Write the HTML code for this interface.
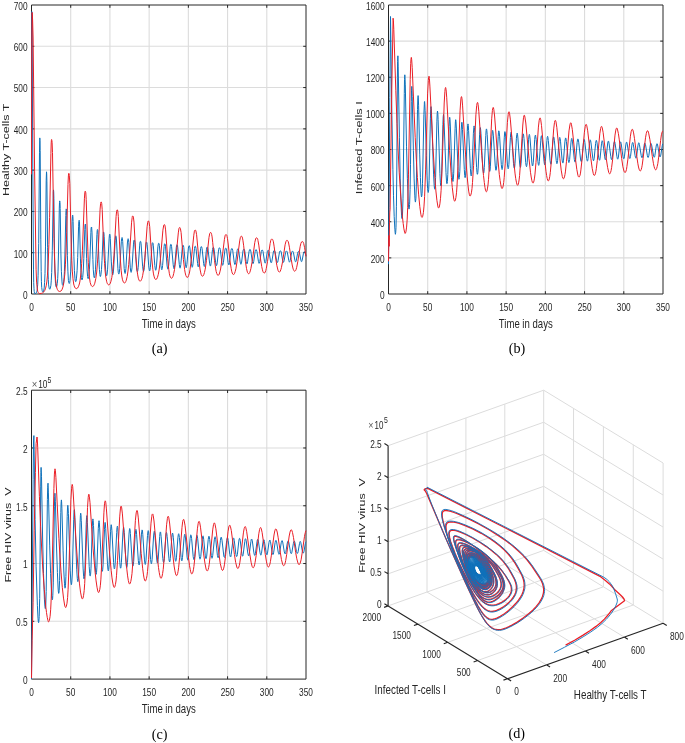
<!DOCTYPE html>
<html><head><meta charset="utf-8"><title>HIV model simulation figure</title>
<style>html,body{margin:0;padding:0;background:#fff;}body{width:685px;height:743px;overflow:hidden;}svg{display:block;will-change:transform;}</style>
</head><body><svg width="685" height="743" viewBox="0 0 685 743"><defs><clipPath id="ca"><rect x="30.50" y="4.00" width="276.50" height="291.00"/></clipPath><clipPath id="cb"><rect x="387.50" y="4.00" width="276.50" height="291.00"/></clipPath><clipPath id="cc"><rect x="30.50" y="389.20" width="276.50" height="290.90"/></clipPath></defs><g stroke="#dcdcdc" stroke-width="1.1"><line x1="70.71" y1="294.00" x2="70.71" y2="5.00"/><line x1="109.93" y1="294.00" x2="109.93" y2="5.00"/><line x1="149.14" y1="294.00" x2="149.14" y2="5.00"/><line x1="188.36" y1="294.00" x2="188.36" y2="5.00"/><line x1="227.57" y1="294.00" x2="227.57" y2="5.00"/><line x1="266.79" y1="294.00" x2="266.79" y2="5.00"/><line x1="31.50" y1="252.71" x2="306.00" y2="252.71"/><line x1="31.50" y1="211.43" x2="306.00" y2="211.43"/><line x1="31.50" y1="170.14" x2="306.00" y2="170.14"/><line x1="31.50" y1="128.86" x2="306.00" y2="128.86"/><line x1="31.50" y1="87.57" x2="306.00" y2="87.57"/><line x1="31.50" y1="46.29" x2="306.00" y2="46.29"/></g><g stroke="#262626" stroke-width="1.0"><path d="M31.50 294.00 H306.00 V5.00 H31.50 Z" fill="none"/><path d="M70.71 294.00v-2.80M70.71 5.00v2.80M109.93 294.00v-2.80M109.93 5.00v2.80M149.14 294.00v-2.80M149.14 5.00v2.80M188.36 294.00v-2.80M188.36 5.00v2.80M227.57 294.00v-2.80M227.57 5.00v2.80M266.79 294.00v-2.80M266.79 5.00v2.80M31.50 252.71h2.80M306.00 252.71h-2.80M31.50 211.43h2.80M306.00 211.43h-2.80M31.50 170.14h2.80M306.00 170.14h-2.80M31.50 128.86h2.80M306.00 128.86h-2.80M31.50 87.57h2.80M306.00 87.57h-2.80M31.50 46.29h2.80M306.00 46.29h-2.80" fill="none"/></g><text transform="translate(31.50 310.50) scale(0.800 1)" font-size="10.40" text-anchor="middle" font-family='"Liberation Sans", sans-serif' fill="#262626">0</text><text transform="translate(70.71 310.50) scale(0.800 1)" font-size="10.40" text-anchor="middle" font-family='"Liberation Sans", sans-serif' fill="#262626">50</text><text transform="translate(109.93 310.50) scale(0.800 1)" font-size="10.40" text-anchor="middle" font-family='"Liberation Sans", sans-serif' fill="#262626">100</text><text transform="translate(149.14 310.50) scale(0.800 1)" font-size="10.40" text-anchor="middle" font-family='"Liberation Sans", sans-serif' fill="#262626">150</text><text transform="translate(188.36 310.50) scale(0.800 1)" font-size="10.40" text-anchor="middle" font-family='"Liberation Sans", sans-serif' fill="#262626">200</text><text transform="translate(227.57 310.50) scale(0.800 1)" font-size="10.40" text-anchor="middle" font-family='"Liberation Sans", sans-serif' fill="#262626">250</text><text transform="translate(266.79 310.50) scale(0.800 1)" font-size="10.40" text-anchor="middle" font-family='"Liberation Sans", sans-serif' fill="#262626">300</text><text transform="translate(306.00 310.50) scale(0.800 1)" font-size="10.40" text-anchor="middle" font-family='"Liberation Sans", sans-serif' fill="#262626">350</text><text transform="translate(27.60 298.90) scale(0.800 1)" font-size="10.40" text-anchor="end" font-family='"Liberation Sans", sans-serif' fill="#262626">0</text><text transform="translate(27.60 257.61) scale(0.800 1)" font-size="10.40" text-anchor="end" font-family='"Liberation Sans", sans-serif' fill="#262626">100</text><text transform="translate(27.60 216.33) scale(0.800 1)" font-size="10.40" text-anchor="end" font-family='"Liberation Sans", sans-serif' fill="#262626">200</text><text transform="translate(27.60 175.04) scale(0.800 1)" font-size="10.40" text-anchor="end" font-family='"Liberation Sans", sans-serif' fill="#262626">300</text><text transform="translate(27.60 133.76) scale(0.800 1)" font-size="10.40" text-anchor="end" font-family='"Liberation Sans", sans-serif' fill="#262626">400</text><text transform="translate(27.60 92.47) scale(0.800 1)" font-size="10.40" text-anchor="end" font-family='"Liberation Sans", sans-serif' fill="#262626">500</text><text transform="translate(27.60 51.19) scale(0.800 1)" font-size="10.40" text-anchor="end" font-family='"Liberation Sans", sans-serif' fill="#262626">600</text><text transform="translate(27.60 9.90) scale(0.800 1)" font-size="10.40" text-anchor="end" font-family='"Liberation Sans", sans-serif' fill="#262626">700</text><text transform="translate(168.75 327.50) scale(0.760 1)" font-size="12.60" text-anchor="middle" font-family='"Liberation Sans", sans-serif' fill="#262626">Time in days</text><text transform="translate(9.00 149.80) scale(0.700 1) rotate(-90)" font-size="12.50" text-anchor="middle" font-family='"Liberation Sans", sans-serif' fill="#262626">Healthy T-cells T</text><g clip-path="url(#ca)"><path d="M31.5 174.3l.3 -162.7l.2 2.7l.1 10.4l.7 143.5l.7 101.7l.2 12.8l.3 6.1l.2 2.7l.3 1.4l.3 .7l.8 -.1l.6 -.6l.5 -1.1l.4 -1.5l.6 -5.5l.4 -9.5l.6 -31.9l.8 -91.1l.3 -14.4l.2 2.8l.2 10l.6 88.5l.4 32.4l.2 9.7l.3 6.1l.5 3.4l.3 .9l.4 .4l.3 -.1l.4 -.8l.6 -3.3l.4 -5.5l.4 -8.8l.5 -27.5l.7 -65.7l.3 -8.6l.2 2l.2 8l.7 65.4l.4 24.6l.3 7.8l.3 5.3l.5 3.1l.3 .9l.3 .3l.3 -.1l.3 -.8l.6 -3l.4 -5.1l.4 -7.7l.6 -22.2l.9 -52.5l.1 -6l.2 -1.9l.2 1.8l.2 6.7l.6 53.4l.4 20.2l.6 11.3l.4 2.8l.2 .7l.2 .3l.3 -.2l.2 -.7l.5 -2.8l.4 -4.7l.3 -6.8l.5 -19l.8 -44.8l.2 -5.6l.2 -1.6l.1 .3l.2 1.3l.2 6.1l.7 45.3l.5 17.8l.6 10.2l.3 2.6l.3 .7l.2 .2l.2 -.2l.3 -.6l.4 -2.7l.4 -4.2l.3 -6l.5 -16.7l.9 -39.5l.2 -5.1l.2 -1.5l.2 .3l.1 1.1l.2 5.5l.7 40l.5 15.4l.5 9.2l.4 2.3l.2 .6l.2 .2l.2 -.1l.2 -.6l.4 -2.4l.7 -9.3l.5 -14.7l.9 -34.9l.3 -4.8l.2 -1.5l.2 .3l.1 .9l.2 5l.8 35.4l.5 13.8l.6 8.2l.3 2.1l.4 .8l.2 -.2l.2 -.5l.3 -2.1l.7 -8.3l.6 -13.2l.9 -31.2l.2 -4.6l.3 -1.4l.2 .3l.1 .9l.2 4.6l.8 32.1l.5 12.1l.5 7.3l.3 1.8l.3 .7l.2 -.2l.1 -.4l.4 -1.9l.6 -7.4l.5 -11.8l1 -28.6l.2 -4.4l.3 -1.3l.2 .2l.1 .8l.2 4.4l.8 29.3l.5 11.3l.5 6.5l.2 1.6l.3 .6l.4 -.5l.3 -1.7l.6 -6.7l.5 -10.7l1 -26.8l.2 -4.1l.3 -1.2l.2 .2l.1 .8l.3 4.1l.9 27.5l.4 10.2l.5 6l.3 1.5l.3 .6l.2 -.5l.3 -1.5l.6 -6.1l.4 -9.9l1 -25.2l.3 -4.1l.2 -1.1l.2 .2l.2 .7l.2 3.9l.9 25.5l.5 9.5l.5 5.4l.2 1.4l.3 .5l.2 -.4l.3 -1.4l.6 -5.3l.5 -9.1l1 -23.4l.3 -3.9l.1 -.8l.2 -.3l.2 .2l.1 .7l.3 3.8l1 23.8l.4 8.6l.5 5l.2 1.2l.3 .5l.2 -.4l.3 -1.3l.5 -4.9l1.5 -30.3l.3 -3.7l.1 -.8l.2 -.3l.2 .2l.1 .6l.3 3.6l1 22.6l.5 7.9l.4 4.4l.3 1.1l.2 .4l.2 -.3l.3 -1.1l.4 -4.5l1.6 -28.6l.3 -3.6l.1 -.7l.2 -.3l.2 .2l.2 .6l.3 3.4l1.4 28.7l.4 4l.3 1l.2 .4l.2 -.3l.3 -1l.4 -4.1l1.6 -26.9l.4 -3.3l.1 -.8l.2 -.2l.2 .1l.2 .7l.3 3.2l1.5 27l.4 3.7l.3 .9l.2 .4l.2 -.3l.2 -.9l.4 -3.8l1.5 -25.5l.4 -3.3l.1 -.7l.2 -.3l.2 .2l.2 .6l.3 3.1l1.5 25.3l.4 3.4l.2 .8l.2 .3l.2 -.2l.2 -.9l.5 -3.4l1.5 -23.8l.3 -3.1l.2 -.8l.2 -.2l.2 .1l.2 .4l.3 2.2l1.5 23.3l.5 4.2l.2 1l.3 .4l.2 -.2l.2 -.8l.4 -3l1.5 -22.5l.3 -3l.2 -.6l.2 -.2l.2 .1l.2 .4l.3 2.1l1.5 22.3l.5 4l.2 .9l.2 .4l.2 -.2l.2 -.7l.4 -2.9l1.5 -21.8l.3 -2.9l.2 -.7l.2 -.2l.2 .1l.2 .4l.3 2.1l1.5 21.2l.5 3.7l.2 .9l.2 .4l.2 -.2l.2 -.7l.4 -2.7l1.5 -21l.3 -2.8l.2 -.6l.2 -.2l.2 .1l.2 .3l.3 2.1l1.5 20.4l.5 3.5l.2 .9l.2 .3l.2 -.2l.2 -.6l.3 -2.5l1.5 -20.2l.4 -2.7l.2 -.7l.2 -.2l.2 .1l.2 .4l.3 2l1.5 19.6l.5 3.3l.2 .9l.2 .3l.2 -.3l.2 -.8l.4 -3.2l1.5 -19.1l.3 -2l.2 -.5l.2 -.1l.2 .1l.2 .3l.3 2l1.5 18.8l.5 3.1l.2 .8l.2 .3l.2 -.2l.2 -.7l.4 -3.1l1.5 -18.4l.3 -1.9l.2 -.5l.1 -.1l.3 .1l.2 .4l.3 1.9l1.6 18l.4 3l.2 .8l.2 .2l.2 -.2l.2 -.7l.4 -3l1.5 -17.5l.3 -1.9l.1 -.5l.2 -.1l.3 .1l.2 .3l.3 1.9l1.6 17.3l.4 2.9l.2 .7l.2 .2l.2 -.2l.1 -.6l.4 -2.8l1.5 -16.9l.4 -1.8l.1 -.5l.2 -.1l.3 .1l.2 .3l.3 1.8l1.6 16.6l.4 2.7l.2 .7l.2 .3l.1 -.2l.2 -.7l.4 -2.6l1.5 -16.2l.3 -1.8l.2 -.4l.2 -.2l.3 .1l.1 .3l.4 1.8l1.6 15.9l.4 2.6l.1 .7l.2 .2l.2 -.2l.2 -.6l.4 -2.5l1.5 -15.5l.3 -1.8l.2 -.4l.2 -.1l.2 0l.2 .4l.4 1.7l1.6 15.3l.3 2.4l.2 .7l.2 .2l.2 -.2l.2 -.6l.4 -2.4l1.5 -14.9l.3 -1.7l.2 -.4l.2 -.1l.2 .1l.2 .3l.4 1.6l1.5 14.7l.4 2.4l.3 .8l.2 -.2l.2 -.5l.3 -2.3l1.5 -14.3l.3 -1.7l.4 -.5l.2 .1l.2 .3l.4 1.6l1.6 14.1l.4 2.2l.3 .8l.2 -.2l.2 -.5l.4 -2.2l1.4 -13.7l.4 -1.6l.2 -.4l.2 -.1l.2 .1l.2 .3l.4 1.5l1.6 13.5l.4 2.2l.3 .7l.2 -.2l.2 -.5l.4 -2.1l1.4 -13.1l.4 -1.6l.2 -.3l.2 -.1l.2 0l.3 .3l.4 1.5l1.6 13l.4 2l.3 .7l.2 -.1l.2 -.5l.4 -2l1.5 -12.6l.4 -1.5l.2 -.4l.2 -.1l.2 .1l.3 .3l.4 1.4l1.5 12.5l.4 1.9l.3 .7l.4 -.6l.3 -1.9l1.5 -12.1l.4 -1.5l.4 -.4l.2 0l.2 .3l.5 1.4l1.5 11.9l.4 1.9l.3 .6l.4 -.5l.3 -1.8l1.5 -11.6l.4 -1.4l.4 -.5l.2 0l.2 .3l.4 1.4l1.5 11.5l.4 1.7l.3 .6l.3 -.5l.4 -1.7l1.4 -11.2l.4 -1.3l.4 -.5l.2 .1l.3 .2l.4 1.3l1.5 11.1l.4 1.6l.3 .6l.4 -.5l.3 -1.6l1.5 -10.7l.4 -1.3l.3 -.5l.3 .1l.3 .2l.4 1.3l1.5 10.5l.4 1.7l.3 .5l.4 -.5l.3 -1.5l1.5 -10.3l.3 -1.3l.4 -.4l.3 0l.2 .3l.5 1.2l1.5 10.1l.4 1.6l.3 .5l.4 -.4l.3 -1.6l1.5 -9.8l.3 -1.2l.4 -.4l.3 0l.2 .2l.5 1.2l1.5 9.8l.3 1.5l.4 .5l.3 -.5l.4 -1.4l1.4 -9.5l.3 -1.1l.4 -.4l.3 0l.2 .2l.5 1.2l1.5 9.3l.4 1.4l.3 .5l.4 -.4l.3 -1.4l1.5 -9.1l.3 -1.1l.4 -.4l.3 0l.2 .2l.5 1.1l1.5 9l.4 1.4l.3 .4l.4 -.4l.3 -1.3l1.5 -8.7l.3 -1l.4 -.4l.3 0l.2 .2l.5 1l1.5 8.6l.4 1.3l.3 .5l.3 -.4l.4 -1.2l1.5 -8.4l.3 -1l.4 -.4l.3 0l.2 .2l.5 1l1.5 8.3l.4 1.2l.3 .5l.3 -.4l.4 -1.2l1.4 -7.9l.4 -1l.3 -.5l.4 0l.2 .2l.5 1l1.5 7.9l.4 1.2l.3 .4l.3 -.2l.3 -.8l1.4 -7.6l.4 -1.3l.4 -.5l.3 -.1l.3 .2l.4 .9l1.5 7.6l.3 1.1l.3 .5l.3 -.2l.3 -.9l1.3 -6.9l.3 -1.2l.3 -.7l.3 -.1l.3 0l.5 .5l.4 1.3l.5 2.3" fill="none" stroke="#0f71ba" stroke-width="1.00" stroke-linejoin="round"/><path d="M31.5 174.3l.3 -131.6l.3 -30.3l.2 1.8l.3 5.7l.5 18.1l1.5 133.1l1.5 98.7l.5 12.3l.6 5.9l.5 3.3l.6 1.3l.6 .8l.4 .2l2 -.2l1.2 -.4l.7 -.5l.6 -.6l1 -1.5l.8 -2.2l.7 -3l.6 -4.1l.5 -5.2l.8 -12.9l.7 -18.5l.7 -26.8l1.3 -64l.3 -10.7l.2 -2.7l.2 -.8l.3 1.1l.2 1.8l.4 10.1l1.5 85.8l.5 18.5l.5 13.2l.6 9.8l.8 6.2l.5 2.1l.6 1.6l.6 1l.8 .6l.7 .2l.6 -.1l.8 -.4l.9 -1.2l.7 -1.8l.7 -2.3l.5 -3l1 -8.4l.6 -9.5l.6 -12.7l.7 -19.3l1.3 -48.4l.4 -8.5l.2 -1.9l.2 -.7l.3 .5l.2 1.5l.5 8.1l1.5 63.4l.5 13.9l.5 10.4l.7 7.7l.7 5.2l.5 1.8l.5 1.4l.6 .9l.7 .5l.8 0l.8 -.6l.7 -1.2l.7 -1.7l.6 -2.1l.5 -2.8l.9 -7.4l.7 -9.4l.7 -12.7l2 -51.9l.4 -5.9l.2 -1.3l.2 -.5l.3 .4l.3 1.3l.4 6.8l1.7 51.8l.4 11.3l.6 8.5l.6 6.7l.7 4.6l.5 1.6l.4 1.2l.6 .8l.6 .4l.6 0l.7 -.6l.6 -1.1l.6 -1.6l1 -4.6l.9 -6.6l.7 -8.1l.7 -10.7l2 -44.1l.5 -5.5l.2 -1.3l.2 -.4l.4 .3l.3 1.2l.5 6l1.8 44.5l.6 9.7l.5 7.5l.7 6l.8 4.1l.4 1.5l.5 1.1l.5 .7l.6 .4l.5 -.1l.6 -.5l.6 -1.1l.5 -1.4l1 -4.2l.8 -6l.7 -7.2l.7 -9.2l2.1 -38.8l.5 -5.1l.3 -1.1l.2 -.4l.4 .2l.3 1.1l.5 5.4l1.8 39.2l1.1 15.1l.6 5.2l.7 3.8l.9 2.3l.4 .6l.5 .3l.5 0l.5 -.6l.5 -.9l.5 -1.3l.9 -3.8l.8 -5.3l.7 -6.4l.7 -8.2l2.2 -34.3l.6 -4.8l.2 -1.1l.3 -.3l.4 .2l.3 .9l.6 5l1.9 34.7l1.1 13.5l.7 4.6l.6 3.3l.8 2.1l.4 .6l.5 .3l.5 -.1l.4 -.4l.5 -.9l.5 -1.1l.8 -3.4l.8 -4.8l.7 -5.7l.7 -7.2l2.2 -30.8l.6 -4.5l.3 -1l.3 -.4l.4 .2l.3 .9l.7 4.5l2 31.4l1.2 11.9l.6 4.1l.7 3l.7 1.9l.4 .5l.4 .2l.4 0l.5 -.4l.9 -1.8l.8 -3l.8 -4.3l.7 -5.1l.7 -6.5l2.4 -28.2l.7 -4.2l.3 -1l.3 -.4l.5 .2l.3 .8l.6 4.3l2.1 28.8l1.1 10.9l.5 3.7l.6 2.6l.7 1.7l.4 .5l.3 .2l.4 -.1l.4 -.3l.9 -1.6l.7 -2.7l.8 -3.9l1.3 -10.6l2.5 -26.2l.6 -4.1l.3 -.9l.4 -.4l.5 .2l.3 .8l.7 4l2.3 27l1.2 10l.6 3.4l.6 2.4l.7 1.5l.3 .5l.4 .2l.3 -.1l.4 -.3l.7 -1.5l.8 -2.5l.6 -3.5l1.3 -9.8l2.5 -24.6l.6 -4l.4 -.9l.3 -.3l.5 .2l.3 .7l.7 3.8l2.3 25.1l1.1 9.2l.6 3.1l.5 2.2l.6 1.4l.7 .5l.3 0l.4 -.3l.7 -1.3l.7 -2.2l.7 -3.2l1.3 -8.9l2.5 -22.9l.7 -3.7l.4 -.9l.4 -.3l.5 .1l.4 .7l.3 1.4l.4 2.2l.6 5.5l1.8 18.1l1.2 8.4l.5 2.7l.6 2l.6 1.3l.6 .5l.3 0l.3 -.3l.7 -1.1l.6 -2.1l.7 -2.9l1.2 -8.2l2.6 -21.4l.7 -3.7l.3 -.8l.4 -.3l.6 .1l.4 .6l.3 1.3l.4 2.1l.7 5.3l1.8 16.9l1.2 7.8l.5 2.5l.5 1.8l.6 1.1l.5 .5l.4 0l.3 -.3l.6 -1l.6 -1.8l.7 -2.7l1.2 -7.6l2.6 -20.3l.7 -3.5l.4 -.9l.4 -.3l.5 .1l.4 .6l.4 1.2l.4 2.1l.7 5l1.8 16.1l1.1 7.1l.9 3.9l.6 1l.5 .4l.3 0l.3 -.1l.6 -1l.6 -1.7l.6 -2.4l1.3 -7l2.6 -19.1l.8 -3.4l.3 -.8l.4 -.3l.6 0l.4 .4l.4 .9l.3 1.4l.8 4.5l1.9 14.9l1 6.4l.6 2.8l.5 2l.6 1.3l.6 .6l.3 0l.3 -.1l.6 -.9l.6 -1.5l.5 -2.3l1.2 -6.6l2.6 -18.1l.7 -3.3l.4 -.8l.4 -.4l.6 0l.4 .4l.4 .9l.4 1.4l.7 4.4l1.8 13.6l1 5.9l1.1 4.5l.5 1.3l.6 .6l.3 0l.3 -.1l.5 -.7l.6 -1.5l.6 -2.1l1.2 -6.1l2.5 -16.8l.8 -3.1l.3 -.9l.4 -.4l.7 0l.4 .3l.5 .9l.4 1.4l.8 4.2l1.9 12.5l.9 5.3l1 4.2l.6 1.2l.5 .7l.3 .2l.3 0l.6 -.6l.6 -1.3l.6 -2.1l1.1 -5.7l2.4 -15.3l.7 -2.9l.7 -1.5l.5 -.3l.7 .1l.5 .7l.4 1.1l.9 4.2l1.4 8.7" fill="none" stroke="#ea1e26" stroke-width="1.00" stroke-linejoin="round"/></g><g stroke="#dcdcdc" stroke-width="1.1"><line x1="427.71" y1="294.00" x2="427.71" y2="5.00"/><line x1="466.93" y1="294.00" x2="466.93" y2="5.00"/><line x1="506.14" y1="294.00" x2="506.14" y2="5.00"/><line x1="545.36" y1="294.00" x2="545.36" y2="5.00"/><line x1="584.57" y1="294.00" x2="584.57" y2="5.00"/><line x1="623.79" y1="294.00" x2="623.79" y2="5.00"/><line x1="388.50" y1="257.88" x2="663.00" y2="257.88"/><line x1="388.50" y1="221.75" x2="663.00" y2="221.75"/><line x1="388.50" y1="185.62" x2="663.00" y2="185.62"/><line x1="388.50" y1="149.50" x2="663.00" y2="149.50"/><line x1="388.50" y1="113.38" x2="663.00" y2="113.38"/><line x1="388.50" y1="77.25" x2="663.00" y2="77.25"/><line x1="388.50" y1="41.12" x2="663.00" y2="41.12"/></g><g stroke="#262626" stroke-width="1.0"><path d="M388.50 294.00 H663.00 V5.00 H388.50 Z" fill="none"/><path d="M427.71 294.00v-2.80M427.71 5.00v2.80M466.93 294.00v-2.80M466.93 5.00v2.80M506.14 294.00v-2.80M506.14 5.00v2.80M545.36 294.00v-2.80M545.36 5.00v2.80M584.57 294.00v-2.80M584.57 5.00v2.80M623.79 294.00v-2.80M623.79 5.00v2.80M388.50 257.88h2.80M663.00 257.88h-2.80M388.50 221.75h2.80M663.00 221.75h-2.80M388.50 185.62h2.80M663.00 185.62h-2.80M388.50 149.50h2.80M663.00 149.50h-2.80M388.50 113.38h2.80M663.00 113.38h-2.80M388.50 77.25h2.80M663.00 77.25h-2.80M388.50 41.12h2.80M663.00 41.12h-2.80" fill="none"/></g><text transform="translate(388.50 310.50) scale(0.800 1)" font-size="10.40" text-anchor="middle" font-family='"Liberation Sans", sans-serif' fill="#262626">0</text><text transform="translate(427.71 310.50) scale(0.800 1)" font-size="10.40" text-anchor="middle" font-family='"Liberation Sans", sans-serif' fill="#262626">50</text><text transform="translate(466.93 310.50) scale(0.800 1)" font-size="10.40" text-anchor="middle" font-family='"Liberation Sans", sans-serif' fill="#262626">100</text><text transform="translate(506.14 310.50) scale(0.800 1)" font-size="10.40" text-anchor="middle" font-family='"Liberation Sans", sans-serif' fill="#262626">150</text><text transform="translate(545.36 310.50) scale(0.800 1)" font-size="10.40" text-anchor="middle" font-family='"Liberation Sans", sans-serif' fill="#262626">200</text><text transform="translate(584.57 310.50) scale(0.800 1)" font-size="10.40" text-anchor="middle" font-family='"Liberation Sans", sans-serif' fill="#262626">250</text><text transform="translate(623.79 310.50) scale(0.800 1)" font-size="10.40" text-anchor="middle" font-family='"Liberation Sans", sans-serif' fill="#262626">300</text><text transform="translate(663.00 310.50) scale(0.800 1)" font-size="10.40" text-anchor="middle" font-family='"Liberation Sans", sans-serif' fill="#262626">350</text><text transform="translate(384.60 298.90) scale(0.800 1)" font-size="10.40" text-anchor="end" font-family='"Liberation Sans", sans-serif' fill="#262626">0</text><text transform="translate(384.60 262.77) scale(0.800 1)" font-size="10.40" text-anchor="end" font-family='"Liberation Sans", sans-serif' fill="#262626">200</text><text transform="translate(384.60 226.65) scale(0.800 1)" font-size="10.40" text-anchor="end" font-family='"Liberation Sans", sans-serif' fill="#262626">400</text><text transform="translate(384.60 190.53) scale(0.800 1)" font-size="10.40" text-anchor="end" font-family='"Liberation Sans", sans-serif' fill="#262626">600</text><text transform="translate(384.60 154.40) scale(0.800 1)" font-size="10.40" text-anchor="end" font-family='"Liberation Sans", sans-serif' fill="#262626">800</text><text transform="translate(384.60 118.28) scale(0.800 1)" font-size="10.40" text-anchor="end" font-family='"Liberation Sans", sans-serif' fill="#262626">1000</text><text transform="translate(384.60 82.15) scale(0.800 1)" font-size="10.40" text-anchor="end" font-family='"Liberation Sans", sans-serif' fill="#262626">1200</text><text transform="translate(384.60 46.02) scale(0.800 1)" font-size="10.40" text-anchor="end" font-family='"Liberation Sans", sans-serif' fill="#262626">1400</text><text transform="translate(384.60 9.90) scale(0.800 1)" font-size="10.40" text-anchor="end" font-family='"Liberation Sans", sans-serif' fill="#262626">1600</text><text transform="translate(525.75 327.50) scale(0.760 1)" font-size="12.60" text-anchor="middle" font-family='"Liberation Sans", sans-serif' fill="#262626">Time in days</text><text transform="translate(361.70 147.70) scale(0.740 1) rotate(-90)" font-size="12.80" text-anchor="middle" font-family='"Liberation Sans", sans-serif' fill="#262626">Infected T-cells I</text><g clip-path="url(#cb)"><path d="M388.5 264.2l.3 -40.4l.3 -16.5l.7 -109.9l.7 -80.9l1.4 99.1l1 53.9l.6 26.3l.7 20.9l.7 13.1l.3 3.4l.2 1.1l.3 -1.7l.3 -5l.4 -20.8l.4 -35.8l.6 -93.1l.2 -16.4l.3 -5.7l.3 10.3l1.2 71.1l.8 40.9l1 29.8l.4 8l.2 2.1l.2 .6l.1 -.2l.2 -.9l.2 -3.5l.5 -15.2l1.3 -105.3l.2 -14l.3 -4.7l.2 2.5l.3 7.6l1.2 61.3l.9 32.6l.8 22.4l.4 5.8l.4 2.1l.1 -.3l.2 -.9l.3 -3.5l.5 -14.7l.4 -24.9l.8 -63.4l.2 -11.2l.3 -3.8l.2 2.3l.2 7.7l1.2 54.3l.7 27.4l.7 17.8l.3 4.6l.3 1.6l.2 -.9l.3 -2.8l.4 -11.5l1.2 -77.3l.3 -10.6l.3 -3.4l.2 2.3l.3 7.3l1.1 48.9l.7 23.3l.6 14.6l.3 3.6l.2 1.3l.3 -.8l.3 -2.5l.4 -10.3l1.4 -69l.4 -9.5l.1 -2.5l.2 -.8l.2 2.2l.3 6.9l1.3 45.2l.6 20.1l.6 12.4l.3 3.1l.3 1.1l.2 -.6l.3 -2.3l.4 -9.1l1.3 -62.4l.3 -8.7l.3 -2.8l.3 2.1l.3 6.8l2 59.4l.6 10.7l.3 2.7l.2 .9l.3 -.7l.2 -2.1l.4 -8.9l1.3 -56.3l.3 -7.6l.3 -2.6l.3 2.1l.3 6.3l1.8 54.1l.5 9.3l.2 2.3l.3 .8l.2 -.6l.2 -1.8l.3 -7.4l1.3 -51.6l.3 -7.4l.3 -2.6l.3 2l.3 6.1l1.9 50l.5 8.3l.2 2.1l.2 .7l.3 -.5l.2 -1.7l.4 -7.1l1.3 -47.9l.3 -6.9l.3 -2.3l.3 1.8l.3 5.9l1.7 46.6l.5 7.4l.2 1.9l.2 .6l.2 -.5l.2 -1.5l.4 -6.3l1.4 -44.7l.3 -6.6l.3 -2.2l.3 1.7l.3 5.6l1.8 43.4l.4 6.7l.2 1.6l.2 .6l.3 -.5l.2 -1.4l.4 -5.9l1.4 -41.4l.4 -6l.1 -1.4l.2 -.5l.3 1.8l.3 5.4l1.8 40.1l.4 6.1l.2 1.5l.2 .6l.2 -.5l.2 -1.3l.4 -5.4l1.4 -38.9l.3 -5.8l.4 -1.9l.3 1.6l.3 5.2l1.8 37.8l.4 5.6l.2 1.4l.2 .5l.2 -.4l.2 -1.2l.4 -4.9l1.4 -36.3l.4 -5.5l.1 -1.3l.2 -.5l.3 1.5l.4 4.9l1.8 35.2l.4 5.1l.2 1.3l.2 .4l.2 -.3l.2 -1.2l.4 -4.7l1.4 -33.9l.4 -5l.3 -1.6l.1 .3l.2 1.1l.4 4.7l1.7 33.2l.5 4.6l.2 1.2l.2 .4l.2 -.4l.2 -1l.3 -4.3l1.5 -32l.3 -4.9l.2 -1.2l.2 -.4l.1 .3l.2 1l.4 4.4l1.7 31l.4 4.3l.2 1.1l.2 .4l.2 -.3l.2 -.9l.3 -4l1.5 -29.9l.4 -4.5l.2 -1.1l.1 -.4l.2 .3l.2 1l.4 4.3l1.8 29.1l.4 3.9l.2 1.1l.2 .3l.2 -.3l.2 -.9l.4 -3.9l1.4 -28.7l.3 -4.3l.3 -1.4l.2 .3l.2 1l.4 4l1.7 28.5l.4 3.7l.2 1l.2 .3l.2 -.3l.2 -.9l.3 -3.6l1.5 -27.6l.3 -4.2l.3 -1.4l.2 .3l.2 .9l.4 4.1l1.7 27.1l.4 3.6l.2 .9l.2 .3l.2 -.3l.2 -.8l.3 -3.4l1.5 -26.6l.3 -4l.3 -1.4l.2 .3l.2 1l.4 3.9l1.7 25.9l.4 3.5l.2 .9l.2 .3l.2 -.3l.2 -.8l.3 -3.3l1.4 -25.4l.4 -3.9l.3 -1.3l.2 .2l.2 .9l.4 3.8l1.7 25l.4 3.2l.2 .9l.2 .3l.2 -.3l.1 -.7l.4 -3.2l1.4 -24.4l.4 -3.7l.3 -1.3l.2 .2l.2 .9l.4 3.6l1.7 24l.4 3.1l.4 1.1l.1 -.2l.2 -.8l.4 -2.9l1.4 -23.5l.4 -3.7l.3 -1.2l.2 .3l.2 .8l.4 3.5l1.7 23l.4 3l.2 .8l.2 .2l.1 -.2l.2 -.7l.4 -2.9l1.4 -22.5l.3 -3.5l.4 -1.1l.2 .2l.1 .8l.5 3.4l1.7 22.1l.4 2.8l.2 .7l.2 .3l.1 -.2l.2 -.7l.3 -2.8l1.5 -21.5l.3 -3.4l.4 -1.1l.2 .2l.1 .8l.4 3.2l1.8 21.3l.4 2.7l.3 .9l.2 -.2l.2 -.7l.3 -2.5l1.5 -20.8l.3 -3.2l.4 -1.1l.1 .2l.2 .7l.4 3.2l1.8 20.4l.4 2.5l.3 .9l.2 -.2l.2 -.6l.3 -2.5l1.4 -19.9l.4 -3.1l.3 -1l.2 .2l.2 .7l.4 3l1.8 19.6l.4 2.4l.3 .9l.4 -.8l.3 -2.5l1.4 -19.1l.4 -2.9l.3 -1l.2 .2l.2 .7l.4 2.9l1.6 18.8l.4 2.3l.4 .8l.3 -.7l.3 -2.2l1.4 -18.3l.4 -3l.3 -1l.2 .2l.2 .7l.4 2.8l1.8 18.1l.4 2.2l.3 .7l.3 -.7l.4 -2.2l1.4 -17.6l.4 -2.7l.3 -1l.2 .2l.2 .7l.4 2.6l1.8 17.4l.4 2.1l.3 .7l.3 -.6l.4 -2.1l1.4 -16.8l.4 -2.8l.4 -.9l.2 .2l.2 .6l.4 2.5l1.8 16.8l.4 2l.4 .6l.3 -.6l.4 -2.1l1.4 -16.1l.4 -2.6l.3 -.8l.2 .2l.2 .5l.4 2.5l1.8 16l.4 1.9l.3 .7l.3 -.6l.4 -2l1.4 -15.4l.4 -2.5l.3 -.9l.2 .2l.2 .6l.4 2.3l1.8 15.3l.4 1.9l.3 .7l.3 -.7l.4 -1.9l1.4 -14.8l.4 -2.3l.3 -.8l.3 .5l.4 1.7l1.6 14.6l.5 2.4l.2 .6l.2 .2l.3 -.5l.3 -1.7l1.4 -14.3l.4 -2.3l.3 -.8l.4 .4l.3 1.7l1.8 14.1l.4 2.3l.2 .5l.2 .2l.3 -.5l.4 -1.7l1.4 -13.7l.4 -2.2l.3 -.7l.2 0l.2 .4l.3 1.6l1.8 13.5l.4 2.2l.2 .6l.2 .2l.3 -.6l.4 -1.6l1.4 -13.1l.4 -2.1l.3 -.8l.2 .1l.2 .4l.3 1.5l1.8 13l.4 2.1l.2 .5l.2 .2l.3 -.5l.4 -1.6l1.4 -12.6l.4 -2l.3 -.7l.3 .4l.4 1.4l1.7 12.6l.4 2l.2 .5l.2 .1l.4 -.4l.3 -1.5l1.4 -12l.4 -2l.3 -.8l.2 .1l.2 .3l.3 1.4l1.8 12l.4 1.9l.4 .7l.3 -.5l.4 -1.4l1.4 -11.5l.4 -1.9l.3 -.7l.2 0l.2 .3l.3 1.4l1.8 11.5l.4 1.8l.4 .7l.3 -.5l.4 -1.4l1.4 -11l.4 -1.8l.3 -.7l.2 0l.2 .3l.3 1.3l1.8 11.1l.4 1.8l.4 .5l.3 -.4l.4 -1.3l1.4 -10.6l.3 -1.7l.4 -.7l.2 0l.1 .3l.4 1.2l1.8 10.7l.4 1.7l.4 .5l.3 -.4l.4 -1.3l1.4 -10l.3 -1.6l.3 -.8l.2 0l.2 .2l.4 1.2l1.8 10.3l.4 1.6l.4 .6l.4 -.5l.3 -1.4l1.3 -9.3l.3 -1.5l.3 -.8l.2 -.1l.2 .1l.4 1.2l1.7 9.9l.4 1.6l.4 .5l.3 -.5l.4 -1.4l1.5 -9.8l.3 -1.2l.2 -.1l.2 0" fill="none" stroke="#0f71ba" stroke-width="1.00" stroke-linejoin="round"/><path d="M388.5 261.3l.4 -25.8l.3 10.8l.3 -24.1l.3 -10.1l.3 -3l1.5 -110l1.5 -80.9l.3 2.6l.4 8.8l2 60.7l1.2 33l1.1 25.9l1.1 23l1.6 24.7l1.6 19.7l.8 6.9l.7 5.4l.7 3.3l.3 .9l.2 .4l.4 -.4l.4 -1.2l.7 -4.8l.6 -8l.5 -11.8l.8 -33.2l1.7 -94.5l.5 -16.2l.3 -4.3l.3 -1.7l.2 .6l.2 1.8l.5 7.6l3 70.2l1.1 21.5l1.1 18.4l1.2 16.6l1.2 12.5l1.1 8l.5 2.1l.5 .7l.4 -.2l.4 -.9l.7 -3.7l.6 -6.5l.6 -9.4l1 -26.8l2 -76l.7 -13.3l.3 -3.3l.4 -1.1l.2 .5l.2 1.7l.5 7.7l3 60.1l2 32.1l1 12.7l1 9.3l.9 5.7l.4 1.5l.4 .5l.3 -.2l.4 -.8l.6 -3.2l.6 -5.5l.6 -8l1 -22.4l2.1 -64.9l.7 -11.6l.3 -2.8l.4 -1.1l.2 .6l.3 1.7l.6 7.4l2.9 53.4l1.8 26.9l.9 10.1l.9 7.4l.7 4.6l.4 1.1l.3 .5l.4 -.2l.3 -.7l.6 -2.7l.6 -4.8l.5 -6.9l1 -19.4l2.1 -56.3l.7 -10.2l.3 -2.5l.4 -.9l.2 .4l.3 1.7l.6 7.2l2.9 48.2l1.7 22.8l.8 8.3l.7 5.9l.7 3.7l.3 1l.3 .3l.4 -.2l.3 -.6l.7 -2.5l.6 -4.2l.5 -6.1l1.1 -17.2l2.3 -50.5l.8 -9.2l.4 -2.4l.4 -.8l.3 .4l.3 1.6l.7 6.9l3 44.4l1.7 19.8l.8 7l.7 5.1l.6 3.1l.4 .8l.3 .3l.3 -.2l.3 -.5l.5 -2.2l.6 -3.8l.5 -5.4l1 -15.4l2.2 -45.5l.7 -8.4l.4 -2.2l.4 -.8l.1 .1l.2 .4l.3 1.5l.8 6.6l3.1 41l1.6 17.5l.8 6l.7 4.4l.6 2.7l.3 .7l.3 .2l.3 -.1l.3 -.5l.6 -2l.5 -3.4l.5 -4.9l1 -13.8l2.2 -41.5l.8 -7.8l.3 -2l.4 -.7l.2 0l.1 .3l.4 1.5l.8 6.3l3.1 37.8l1.5 15.4l.7 5.3l.7 3.8l.6 2.3l.3 .5l.3 .3l.2 -.2l.3 -.4l.5 -1.8l.5 -3l.5 -4.4l.9 -12.6l2.3 -37.9l.7 -7.3l.4 -1.8l.3 -.7l.2 0l.2 .4l.3 1.4l.9 6l3.2 35.5l1.5 13.8l.7 4.7l.6 3.3l.6 2.1l.3 .5l.2 .2l.3 -.1l.3 -.4l.5 -1.7l.5 -2.8l.5 -4l1 -11.7l2.4 -35.3l.8 -6.8l.4 -1.7l.4 -.7l.1 0l.2 .3l.4 1.3l.8 5.9l3.1 33.4l1.4 12.5l.6 4.2l.6 3l.5 1.8l.3 .5l.2 .1l.3 -.1l.3 -.4l.5 -1.5l.5 -2.6l.5 -3.8l1 -10.7l2.4 -32.9l.8 -6.4l.4 -1.6l.4 -.6l.1 0l.2 .3l.4 1.2l.8 5.5l3.1 31.4l1.3 11.4l1.1 6.4l.6 1.7l.2 .4l.3 .2l.3 -.1l.2 -.4l.6 -1.4l.5 -2.4l.5 -3.4l1 -9.8l2.5 -30.4l.9 -5.9l.4 -1.6l.4 -.6l.2 0l.2 .2l.3 1.2l.9 5.2l3.2 29.7l1.3 10.3l1.1 5.8l.5 1.4l.5 .5l.3 -.1l.2 -.3l.6 -1.3l.5 -2.3l.4 -3.2l1 -9.1l2.5 -28.6l.8 -5.6l.4 -1.5l.4 -.7l.2 0l.2 .2l.4 1.2l.9 5l3.2 28l1.3 9.5l1.1 5.4l.5 1.3l.5 .5l.2 -.1l.3 -.3l.5 -1.2l.5 -2.1l.5 -3l1 -8.4l2.5 -26.6l.8 -5.3l.4 -1.4l.4 -.7l.2 0l.2 .2l.4 1l.9 4.7l3.2 26.4l1.3 8.7l1.1 4.9l.5 1.2l.5 .4l.2 -.1l.2 -.3l.5 -1.1l.5 -1.9l.5 -2.9l1 -7.8l2.4 -24.7l.8 -5l.4 -1.4l.4 -.6l.2 -.1l.2 .1l.4 1l1 4.5l.9 6.3l2.4 18.8l1.2 8.1l1.1 4.4l.5 1l.5 .4l.5 -.3l.5 -1.2l.5 -1.8l.4 -2.7l1 -7.4l2.5 -23l.8 -4.7l.4 -1.3l.4 -.8l.4 -.1l.4 .5l.8 3.1l.9 5.8l2.3 17.7l1.1 7.4l.6 3.2l.6 2.2l.5 1.3l.6 .5l.5 -.3l.5 -1.1l.5 -1.8l.5 -2.6l.9 -6.8l2.4 -20.6l.8 -4.4l.7 -2.3l.5 -.4l.4 .3l.5 1.1l.4 1.8l1.1 5.7l2.4 16.9l1.1 6.8l.6 2.9l.6 2.1l.6 1.2l.5 .4l.3 -.1l.2 -.3l.5 -1.1l.5 -2l.6 -2.7l.9 -6.6l1.9 -16.5l.8 -5.8l.8 -3l.4 -.6l.4 .1" fill="none" stroke="#ea1e26" stroke-width="1.00" stroke-linejoin="round"/></g><g stroke="#dcdcdc" stroke-width="1.1"><line x1="70.71" y1="679.10" x2="70.71" y2="390.20"/><line x1="109.93" y1="679.10" x2="109.93" y2="390.20"/><line x1="149.14" y1="679.10" x2="149.14" y2="390.20"/><line x1="188.36" y1="679.10" x2="188.36" y2="390.20"/><line x1="227.57" y1="679.10" x2="227.57" y2="390.20"/><line x1="266.79" y1="679.10" x2="266.79" y2="390.20"/><line x1="31.50" y1="621.32" x2="306.00" y2="621.32"/><line x1="31.50" y1="563.54" x2="306.00" y2="563.54"/><line x1="31.50" y1="505.76" x2="306.00" y2="505.76"/><line x1="31.50" y1="447.98" x2="306.00" y2="447.98"/></g><g stroke="#262626" stroke-width="1.0"><path d="M31.50 679.10 H306.00 V390.20 H31.50 Z" fill="none"/><path d="M70.71 679.10v-2.80M70.71 390.20v2.80M109.93 679.10v-2.80M109.93 390.20v2.80M149.14 679.10v-2.80M149.14 390.20v2.80M188.36 679.10v-2.80M188.36 390.20v2.80M227.57 679.10v-2.80M227.57 390.20v2.80M266.79 679.10v-2.80M266.79 390.20v2.80M31.50 621.32h2.80M306.00 621.32h-2.80M31.50 563.54h2.80M306.00 563.54h-2.80M31.50 505.76h2.80M306.00 505.76h-2.80M31.50 447.98h2.80M306.00 447.98h-2.80" fill="none"/></g><text transform="translate(31.50 695.60) scale(0.800 1)" font-size="10.40" text-anchor="middle" font-family='"Liberation Sans", sans-serif' fill="#262626">0</text><text transform="translate(70.71 695.60) scale(0.800 1)" font-size="10.40" text-anchor="middle" font-family='"Liberation Sans", sans-serif' fill="#262626">50</text><text transform="translate(109.93 695.60) scale(0.800 1)" font-size="10.40" text-anchor="middle" font-family='"Liberation Sans", sans-serif' fill="#262626">100</text><text transform="translate(149.14 695.60) scale(0.800 1)" font-size="10.40" text-anchor="middle" font-family='"Liberation Sans", sans-serif' fill="#262626">150</text><text transform="translate(188.36 695.60) scale(0.800 1)" font-size="10.40" text-anchor="middle" font-family='"Liberation Sans", sans-serif' fill="#262626">200</text><text transform="translate(227.57 695.60) scale(0.800 1)" font-size="10.40" text-anchor="middle" font-family='"Liberation Sans", sans-serif' fill="#262626">250</text><text transform="translate(266.79 695.60) scale(0.800 1)" font-size="10.40" text-anchor="middle" font-family='"Liberation Sans", sans-serif' fill="#262626">300</text><text transform="translate(306.00 695.60) scale(0.800 1)" font-size="10.40" text-anchor="middle" font-family='"Liberation Sans", sans-serif' fill="#262626">350</text><text transform="translate(27.60 684.00) scale(0.800 1)" font-size="10.40" text-anchor="end" font-family='"Liberation Sans", sans-serif' fill="#262626">0</text><text transform="translate(27.60 626.22) scale(0.800 1)" font-size="10.40" text-anchor="end" font-family='"Liberation Sans", sans-serif' fill="#262626">0.5</text><text transform="translate(27.60 568.44) scale(0.800 1)" font-size="10.40" text-anchor="end" font-family='"Liberation Sans", sans-serif' fill="#262626">1</text><text transform="translate(27.60 510.66) scale(0.800 1)" font-size="10.40" text-anchor="end" font-family='"Liberation Sans", sans-serif' fill="#262626">1.5</text><text transform="translate(27.60 452.88) scale(0.800 1)" font-size="10.40" text-anchor="end" font-family='"Liberation Sans", sans-serif' fill="#262626">2</text><text transform="translate(27.60 395.10) scale(0.800 1)" font-size="10.40" text-anchor="end" font-family='"Liberation Sans", sans-serif' fill="#262626">2.5</text><text transform="translate(168.75 712.60) scale(0.760 1)" font-size="12.60" text-anchor="middle" font-family='"Liberation Sans", sans-serif' fill="#262626">Time in days</text><text transform="translate(10.60 535.00) scale(0.770 1) rotate(-90)" font-size="12.50" text-anchor="middle" font-family='"Liberation Sans", sans-serif' fill="#262626">Free HIV virus &#160;V</text><g clip-path="url(#cc)"><path d="M31.5 679.1l1.6 -199.8l.4 -37.3l.4 -6.4l1.2 83.8l1 47.4l1.3 38.9l.6 12.6l.3 3.2l.3 1.2l.1 -.4l.2 -1.2l.3 -4.4l.5 -18.2l1 -111.6l.2 -14.3l.2 -5.2l.4 8.9l1.1 61.7l.9 35.5l.9 25.6l.5 7.1l.2 1.7l.2 .7l.1 -.3l.1 -.7l.3 -3.1l.4 -13l1.2 -92.1l.3 -12.2l.3 -4l.1 2.1l.3 6.8l1.3 53l.9 28.5l.9 19.4l.4 5.1l.4 1.7l.1 -.2l.2 -.8l.2 -3.1l.5 -12.8l1.1 -76.1l.3 -10.2l.2 -3.4l.2 2l.3 6.6l1.2 47.2l.8 23.5l.7 15.5l.3 4l.3 1.4l.3 -.8l.2 -2.4l.4 -9.9l1.2 -68l.3 -9.2l.3 -3.2l.2 1.9l.3 6.4l1.2 42.6l.7 20.2l.7 12.8l.3 3.3l.2 1.1l.3 -.7l.2 -2.1l.4 -8.9l1.3 -60.1l.3 -8.4l.3 -2.7l.3 2l.3 6.1l1.8 56.8l.6 10.8l.3 2.7l.2 1l.3 -.7l.2 -1.9l.5 -8.1l1.4 -54.2l.3 -7.6l.2 -1.9l.2 -.6l.2 1.9l.3 5.9l1.8 51.7l.6 9.3l.3 2.3l.2 .8l.3 -.6l.2 -1.9l.5 -7.9l1.3 -48.8l.3 -6.9l.3 -2.3l.3 1.8l.3 5.7l1.8 47.4l.5 8.1l.2 2l.2 .7l.2 -.5l.3 -1.7l.4 -6.4l1.3 -46l.3 -6.5l.4 -2.2l.2 1.7l.3 5.4l1.8 43.7l.5 7.3l.2 1.8l.3 .6l.2 -.5l.2 -1.4l.4 -6l1.3 -41.6l.3 -5.8l.3 -1.9l.3 1.6l.3 5.1l1.8 40.3l.4 6.4l.2 1.6l.2 .5l.2 -.4l.2 -1.3l.4 -5.5l1.4 -38.8l.4 -5.7l.3 -2l.3 1.6l.3 4.8l1.8 36.7l.4 5.7l.2 1.4l.2 .5l.3 -.4l.2 -1.2l.4 -5l1.4 -35.5l.3 -5.1l.3 -1.8l.3 1.5l.3 4.7l1.8 35.2l.4 5.3l.2 1.3l.2 .5l.2 -.3l.2 -1.2l.4 -4.6l1.5 -33.6l.3 -4.9l.2 -1.2l.1 -.4l.3 1.4l.4 4.4l1.7 32.1l.4 4.7l.2 1.2l.2 .4l.2 -.3l.2 -1l.4 -4.1l1.5 -31.1l.3 -4.7l.2 -1.1l.2 -.4l.3 1.3l.3 4.3l1.8 30.5l.4 4.4l.2 1.1l.2 .4l.2 -.3l.2 -1l.4 -4.2l1.5 -29.7l.4 -4.4l.3 -1.5l.3 1.3l.4 4.1l1.6 29.4l.4 4.1l.2 1l.2 .4l.2 -.3l.2 -.9l.4 -3.8l1.5 -28.3l.4 -4.2l.2 -1l.1 -.4l.2 .3l.2 .9l.3 3.9l1.7 27.5l.4 3.7l.2 1l.2 .3l.2 -.3l.2 -.9l.4 -3.5l1.5 -26.7l.4 -4l.1 -1l.2 -.4l.2 .3l.2 .9l.3 3.8l1.7 26l.4 3.5l.2 .9l.2 .3l.2 -.2l.2 -.9l.4 -3.5l1.5 -25.5l.4 -3.7l.3 -1.3l.2 .2l.2 .9l.3 3.7l1.7 25.2l.4 3.4l.2 .9l.2 .3l.1 -.3l.2 -.7l.4 -3.3l1.5 -24.6l.4 -3.8l.1 -.9l.2 -.3l.2 .2l.2 .9l.3 3.6l1.7 24.2l.4 3.2l.2 .8l.1 .3l.2 -.2l.2 -.8l.4 -3.1l1.5 -23.7l.4 -3.6l.1 -.8l.2 -.4l.2 .3l.1 .8l.4 3.5l1.7 23.2l.4 3.1l.3 1l.2 -.2l.2 -.7l.4 -2.9l1.5 -22.7l.3 -3.5l.2 -.9l.2 -.3l.2 .2l.1 .8l.4 3.4l1.7 22.3l.4 2.9l.3 1l.2 -.2l.2 -.7l.4 -2.8l1.5 -21.8l.3 -3.4l.4 -1.1l.2 .3l.1 .7l.4 3.2l1.7 21.5l.3 2.8l.4 .9l.2 -.2l.2 -.6l.3 -2.7l1.5 -21l.4 -3.2l.4 -1.1l.1 .2l.2 .8l.4 3.1l1.7 20.6l.3 2.6l.4 .9l.2 -.2l.2 -.6l.3 -2.6l1.5 -20.1l.4 -3.1l.2 -.7l.2 -.3l.1 .2l.2 .7l.4 3l1.7 19.8l.3 2.5l.4 .9l.2 -.2l.1 -.6l.4 -2.5l1.5 -19.3l.4 -2.9l.2 -.8l.1 -.3l.2 .2l.2 .7l.4 2.9l1.6 19l.4 2.4l.4 .8l.1 -.2l.2 -.5l.4 -2.4l1.5 -18.5l.4 -2.8l.3 -1l.2 .2l.2 .6l.4 2.8l1.6 18.2l.4 2.3l.4 .8l.1 -.2l.2 -.5l.4 -2.3l1.5 -17.7l.4 -2.8l.3 -.9l.2 .2l.2 .6l.4 2.7l1.6 17.5l.4 2.2l.3 .7l.2 -.2l.2 -.5l.4 -2.2l1.5 -17.1l.3 -2.6l.4 -.8l.1 .1l.2 .7l.4 2.6l1.6 16.7l.3 2.1l.4 .7l.3 -.6l.4 -2l1.5 -16.4l.4 -2.6l.3 -.9l.2 .2l.2 .6l.4 2.5l1.6 16.1l.4 2l.3 .7l.2 -.2l.2 -.5l.3 -1.9l1.6 -15.8l.4 -2.4l.3 -.8l.2 .1l.2 .6l.4 2.4l1.6 15.5l.4 1.9l.3 .6l.4 -.6l.3 -1.7l1.6 -15.2l.4 -2.3l.4 -.9l.2 .2l.1 .5l.5 2.3l1.7 14.9l.3 1.8l.4 .6l.2 -.1l.2 -.5l.3 -1.9l1.6 -14.4l.4 -2.2l.3 -.8l.2 .2l.2 .5l.4 2.2l1.6 14.3l.4 1.7l.3 .6l.4 -.5l.3 -1.8l1.6 -13.8l.3 -2.2l.4 -.8l.2 .2l.2 .5l.4 2.1l1.6 13.7l.4 1.7l.3 .5l.4 -.5l.4 -1.8l1.4 -13.2l.4 -2.1l.3 -.7l.4 .4l.3 1.5l1.6 13.2l.4 2.1l.2 .6l.2 .1l.3 -.4l.3 -1.5l1.6 -12.8l.3 -2.1l.4 -.7l.3 .4l.4 1.5l1.6 12.5l.5 2.1l.3 .7l.4 -.5l.3 -1.5l1.6 -12.3l.3 -1.9l.4 -.7l.3 .4l.4 1.4l1.6 12.1l.5 2l.3 .6l.4 -.4l.3 -1.5l1.6 -11.7l.3 -1.9l.4 -.6l.3 .3l.4 1.4l1.6 11.6l.5 1.9l.3 .6l.4 -.5l.3 -1.4l1.5 -11.2l.4 -1.8l.4 -.6l.3 .3l.3 1.3l1.7 11.2l.4 1.8l.4 .6l.3 -.4l.3 -1.3l1.5 -10.8l.4 -1.7l.4 -.7l.3 .3l.4 1.3l1.6 10.7l.4 1.7l.4 .6l.4 -.4l.3 -1.3l1.5 -10.3l.4 -1.7l.4 -.6l.1 0l.2 .3l.4 1.2l1.6 10.3l.5 1.6l.3 .6l.4 -.4l.3 -1.3l1.5 -9.8l.4 -1.6l.4 -.6l.1 0l.2 .3l.4 1.1l1.6 9.9l.5 1.6l.3 .5l.4 -.4l.3 -1.2l1.5 -9.4l.4 -1.5l.3 -.6l.2 0l.2 .2l.4 1.1l1.6 9.5l.5 1.5l.3 .5l.4 -.3l.3 -1.2l1.5 -8.9l.4 -1.5l.3 -.6l.2 -.1l.2 .2l.4 1.1l1.6 9.2l.5 1.4l.3 .5l.4 -.4l.4 -1.3l1.4 -8.2l.3 -1.4l.3 -.7l.1 -.1l.2 .1l.4 1l1.6 8.9l.4 1.4l.4 .4l.3 -.3l.4 -1l1.4 -8.2l.4 -1.4l.3 -.6" fill="none" stroke="#0f71ba" stroke-width="1.00" stroke-linejoin="round"/><path d="M31.5 678.1l.6 -37.3l1 -38l1.1 -72l1.2 -58.3l.7 -29l.9 -6.5l.3 2.2l.4 8l1.7 49.1l1.2 30.1l1.1 22.6l1.1 20.1l1.5 20.5l1.4 16.3l.8 6.7l.8 5.1l.7 3l.3 .9l.2 .3l.5 -.4l.4 -1.1l.7 -4.1l.6 -7.1l.5 -10.3l.9 -28.7l1.8 -81.8l.5 -14.3l.3 -3.7l.3 -1.6l.2 .5l.2 1.5l.5 6.6l3 60.9l1.1 18.7l1.1 15.9l1.2 14.4l1.2 10.8l1.1 6.9l.5 1.8l.5 .7l.4 -.2l.3 -.8l.7 -3.3l.6 -5.6l.5 -8.3l.9 -23.2l1.9 -66.3l.7 -11.6l.3 -2.8l.3 -1l.2 .5l.3 1.5l.5 6.6l3.1 52.1l2.1 27.8l1.1 11l1 8.2l1 5l.4 1.3l.4 .5l.4 -.2l.3 -.6l.6 -2.8l.6 -4.8l.5 -6.9l.9 -19.6l1.9 -56.4l.7 -10l.3 -2.5l.3 -.9l.3 .5l.2 1.5l.7 6.4l3.1 46.3l2 23.2l1 8.8l.9 6.3l.8 4l.4 1l.4 .3l.3 -.1l.3 -.6l.6 -2.5l.6 -4.1l.5 -6.1l.9 -17l2.1 -49.3l.6 -9l.4 -2.2l.3 -.8l.3 .4l.3 1.5l.6 6.2l3 41.9l1.8 19.9l.8 7.2l.8 5.2l.7 3.2l.4 .9l.3 .3l.3 -.2l.3 -.5l.6 -2.1l.6 -3.7l.5 -5.2l1 -15.1l2.2 -43.8l.7 -8l.3 -2.1l.4 -.7l.3 .4l.3 1.4l.7 6l2.9 38.6l1.6 17.3l.7 6.1l.7 4.5l.7 2.7l.3 .6l.3 .3l.3 -.1l.3 -.5l.6 -2l.6 -3.3l.6 -4.6l1 -13.4l2.4 -39.8l.8 -7.4l.4 -1.8l.4 -.7l.2 .3l.4 1.4l.7 5.8l2.9 35.7l1.5 15.2l.7 5.3l.6 3.8l.6 2.3l.3 .6l.3 .2l.3 -.1l.3 -.5l.6 -1.7l.6 -3l.5 -4.2l1.1 -12.2l2.4 -36.2l.8 -6.8l.3 -1.8l.5 -.6l.3 .3l.3 1.2l.8 5.6l3 33.3l1.5 13.4l.7 4.6l.6 3.3l.6 2l.3 .5l.3 .2l.3 -.1l.2 -.4l.6 -1.6l.5 -2.7l.6 -3.9l1 -11.1l2.4 -33.7l.8 -6.4l.4 -1.6l.4 -.6l.3 .3l.3 1.2l.8 5.3l3.1 31l1.4 12l.7 4.2l.6 2.9l.5 1.8l.3 .5l.3 .2l.3 -.1l.2 -.4l.6 -1.4l.5 -2.4l.5 -3.5l1 -10l2.4 -30.5l.7 -5.9l.4 -1.4l.4 -.6l.2 0l.2 .3l.3 1.1l.9 5l3.1 29l1.3 10.9l.7 3.6l.5 2.5l.6 1.6l.2 .4l.3 .1l.3 -.1l.2 -.3l.6 -1.4l.5 -2.3l.5 -3.2l1 -9.3l2.5 -28.5l.8 -5.5l.4 -1.5l.4 -.5l.1 0l.2 .2l.4 1.1l.8 4.6l3.1 26.7l1.4 9.7l1.1 5.5l.5 1.3l.5 .5l.3 0l.3 -.3l.5 -1.2l.5 -2l.5 -3l1 -8.4l2.5 -26.1l.8 -5.2l.4 -1.3l.3 -.5l.2 0l.2 .2l.4 1.1l.9 4.6l3.1 25.7l1.3 9.1l1.2 5.1l.5 1.3l.5 .5l.5 -.4l.5 -1.2l.5 -1.9l.5 -2.8l1 -7.8l2.5 -24.6l.8 -4.8l.4 -1.2l.5 -.6l.2 0l.1 .2l.4 .9l.9 4.2l3.1 23.9l1.3 8.1l1.1 4.5l.5 1.1l.4 .4l.6 -.3l.5 -1l.5 -1.8l.5 -2.5l1 -7.3l2.6 -22.7l.8 -4.5l.4 -1.2l.4 -.6l.2 0l.2 .1l.4 .9l.9 4.1l3.2 23l1.2 7.6l1 4.1l.5 1l.5 .4l.5 -.3l.5 -1l.5 -1.7l.5 -2.5l1.1 -6.9l2.6 -21.6l.8 -4.4l.4 -1.2l.4 -.6l.2 -.1l.2 .1l.4 .8l.9 4l3.2 22.3l1.2 7.2l.9 3.8l.5 1l.4 .3l.6 -.3l.5 -1l.5 -1.6l.5 -2.4l1 -6.5l2.6 -20.2l.8 -4.1l.4 -1.2l.4 -.7l.4 -.1l.4 .4l.8 2.7l.9 5.2l2.3 15.7l1 6.5l1.2 4.7l.5 1.2l.5 .4l.6 -.3l.5 -.9l.5 -1.6l.5 -2.3l1 -6.2l2.5 -18.4l.8 -3.9l.7 -2l.5 -.4l.4 .2l.4 1l.5 1.6l1 5.1l2.2 15.1l1.1 6.1l1.2 4.4l.5 1.1l.5 .4l.5 -.3l.5 -.9l.5 -1.5l.6 -2.2l.9 -5.9l2.5 -17.6l.8 -3.7l.7 -2" fill="none" stroke="#ea1e26" stroke-width="1.00" stroke-linejoin="round"/></g><text transform="translate(31.70 388.20) scale(0.850 1)" font-size="11.20" text-anchor="start" font-family='"Liberation Sans", sans-serif' fill="#5a5a5a">&#215;</text><text transform="translate(38.20 388.00) scale(0.800 1)" font-size="10.40" text-anchor="start" font-family='"Liberation Sans", sans-serif' fill="#262626">10</text><text transform="translate(47.50 382.50) scale(0.800 1)" font-size="8.60" text-anchor="start" font-family='"Liberation Sans", sans-serif' fill="#262626">5</text><path d="M546.40 664.83L427.00 592.03M585.30 650.95L465.90 578.15M624.20 637.08L504.80 564.28M663.10 623.20L543.70 550.40M477.65 660.50L633.25 605.00M447.80 642.30L603.40 586.80M417.95 624.10L573.55 568.60M388.10 605.90L543.70 550.40M427.00 592.03L427.00 431.83M465.90 578.15L465.90 417.95M504.80 564.28L504.80 404.08M543.70 550.40L543.70 390.20M388.10 573.86L543.70 518.36M388.10 541.82L543.70 486.32M388.10 509.78L543.70 454.28M388.10 477.74L543.70 422.24M388.10 445.70L543.70 390.20M663.10 623.20L663.10 463.00M633.25 605.00L633.25 444.80M603.40 586.80L603.40 426.60M573.55 568.60L573.55 408.40M663.10 591.16L543.70 518.36M663.10 559.12L543.70 486.32M663.10 527.08L543.70 454.28M663.10 495.04L543.70 422.24M663.10 463.00L543.70 390.20" fill="none" stroke="#dcdcdc" stroke-width="1.0"/><path d="M565.6 645.1l9 -4.9l8.1 -4.8l7.2 -4.6l6.1 -4.4l4.6 -3.6l3.8 -3.7l3.8 -4.3l3.3 -4.4l13 -9.7l-.1 -.8l-.4 -.9l-1.5 -2l-2 -2l-5.4 -4.9l-3.1 -3.6l-2.6 -2.6l-4 -3.4l-5.4 -4.2l-172.2 -87.9l-1.4 .1l-1.2 .3l-.8 .5l-.2 .4l.1 .3l1 1l1.5 2.7l19.2 45.1l19.6 44.2l6.2 13.2l4.8 10l3 5.8l2.7 4.7l2.5 3.8l2.1 2.9l2.3 2.4l2.2 1.8l2.3 1.2l2.4 .7l1.5 .2l1.6 0l1.6 -.1l1.6 -.4l3.9 -1.3l5.2 -2.5l5.7 -3.3l5.9 -4l5.3 -4.1l4.6 -4.1l3.3 -3.5l2.6 -3.3l2.1 -3.4l1.5 -3.3l.9 -3.1l.3 -3.1l-.3 -3.2l-.8 -3.2l-1.4 -3.3l-2.2 -3.7l-7 -10.5l-2.5 -3.3l-2.5 -3.2l-4.3 -4.7l-4.6 -4.4l-5.3 -4.7l-5.8 -4.5l-8.6 -5.9l-9.4 -5.8l-10.8 -6.1l-11.1 -5.6l-9.3 -4.2l-3.8 -1.4l-3.2 -1.1l-2.4 -.6l-2.1 -.3l-1.7 .1l-1.1 .5l-.7 .7l-.4 .8l-.2 1.4l0 1.7l.2 2.1l.5 2.5l1.5 6l2.4 7.5l3.2 9l4.2 10.6l5 12.1l5.8 13.4l4.8 10.7l4.5 9.2l3.8 7.2l3.1 5.1l2.7 3.7l1.4 1.4l1.3 1.1l1.2 .9l1.3 .6l1.2 .3l1.2 .2l1.1 0l1.4 -.3l2.8 -.9l3.5 -1.8l4.1 -2.6l4.2 -3.2l3.8 -3.5l3.5 -3.7l2.6 -3.1l2 -3.1l1.6 -2.9l1.1 -3l.7 -2.9l.3 -2.9l-.2 -3l-.6 -2.9l-.8 -2.2l-1 -2.5l-3.6 -6.7l-3.1 -5.2l-3.2 -4.6l-3.5 -4.3l-3.8 -4l-4.2 -3.8l-4.8 -3.8l-6.8 -4.7l-7.4 -4.4l-8 -4.2l-7.5 -3.3l-6.5 -2.4l-2.8 -.7l-2.6 -.5l-2.2 -.2l-1.9 0l-1.4 .4l-1 .6l-.6 .7l-.4 1l-.3 1.3l0 1.5l.4 3.8l1.2 4.9l2 6l2.8 7.3l3.6 8.7l4.3 9.7l4.2 8.7l4.8 9.6l3.8 7.1l3.3 5.6l3 4.3l2.8 3.3l2.7 2.4l1.4 .9l1.3 .7l2.2 .7l2.3 .1l2.5 -.3l2.6 -.8l3.2 -1.6l3.1 -1.9l3.1 -2.3l2.8 -2.5l2.1 -2.3l1.8 -2.4l1.4 -2.4l1 -2.4l.5 -2.4l.2 -2.5l-.2 -2.4l-.6 -2.6l-1.5 -3.9l-3 -5.5l-2.6 -4.4l-2.7 -3.9l-2.9 -3.7l-3.2 -3.4l-3.5 -3.3l-4.1 -3.4l-5.8 -4.4l-6.6 -4.3l-7.2 -4.3l-6.8 -3.5l-5.5 -2.4l-4.3 -1.4l-1.8 -.4l-1.5 -.1l-1.3 .2l-.9 .4l-.5 .5l-.4 .8l-.3 1l0 1.2l.4 3.1l1 4.1l1.9 5.3l2.5 6.5l3.2 7.4l3.8 8.1l3.6 7.2l3.4 6.5l3.2 5.5l2.9 4.6l2.7 3.7l2.6 3l2.5 2.3l2.5 1.8l2.1 .9l2.1 .7l2.1 .2l2.2 -.1l2.4 -.5l2.5 -.9l2.2 -1l2.6 -1.6l2.2 -1.7l1.9 -1.8l1.5 -1.8l1.1 -2l.8 -1.9l.3 -1.9l-.1 -2l-.4 -2.1l-.9 -2.3l-1.4 -2.7l-3.4 -5.4l-2.7 -3.9l-2.5 -3.1l-2.7 -3l-3 -3l-3.4 -3.1l-5.2 -4.3l-5.9 -4.5l-6.7 -4.8l-6.3 -4.2l-4.6 -2.8l-3.5 -1.7l-2.6 -.8l-.8 -.1l-.7 .2l-.4 .4l-.3 .5l-.1 1.8l.5 2.9l1.2 4l1.8 5.3l2.5 6.3l2.9 7l3.2 7.2l5.2 10.5l2.4 4.5l2.2 3.8l2.2 3.2l2 2.7l2 2.1l1.9 1.6l1.7 1l1.7 .7l1.7 .2l1.9 -.2l1.8 -.6l2 -.9l2.1 -1.5l2 -1.7l1.7 -1.9l1.5 -1.9l1 -2l.8 -2.1l.5 -2.1l.2 -2.1l-.2 -2.1l-.5 -2.2l-.9 -2.6l-1.4 -3l-3.3 -5.8l-2.3 -3.7l-2.1 -2.9l-2.4 -2.8l-2.6 -2.7l-2.9 -2.6l-4 -3.2l-4.4 -3.1l-4.7 -2.9l-4.7 -2.5l-4 -1.9l-3.3 -1l-1.4 -.3l-1.1 0l-.8 .1l-.7 .4l-.5 .4l-.3 .6l-.2 1.8l.3 2.6l.7 3.4l1.3 4.3l1.8 5.1l2.1 5.6l2.5 5.7l2.3 4.9l2.3 4.7l2.3 4.2l2.2 3.7l2.2 3.1l2.1 2.6l2 2.2l2 1.6l1.9 1.2l1.8 .8l1.8 .5l1.8 .1l1.7 -.3l1.9 -.6l2 -1l2 -1.3l1.8 -1.5l1.6 -1.7l1.2 -1.8l1 -1.9l.6 -1.9l.2 -2l-.1 -2l-.3 -2.1l-.9 -2.4l-1.3 -2.8l-2.9 -5.1l-2.2 -3.4l-2 -2.8l-2.3 -2.7l-2.4 -2.5l-2.8 -2.6l-3.6 -2.9l-4 -2.8l-4.2 -2.6l-4.3 -2.4l-3.8 -1.7l-3.1 -1.1l-2.4 -.4l-.9 .1l-.7 .3l-.4 .3l-.3 .5l-.3 1.5l.2 2.2l.6 3.1l1 3.8l1.5 4.5l1.9 5l2.1 5l4 8.5l2 3.7l2 3.3l2 2.8l2 2.5l1.9 2.1l1.9 1.6l1.8 1.2l1.7 .9l1.8 .6l1.7 .2l1.7 -.1l1.6 -.4l1.9 -.7l1.8 -1l1.7 -1.3l1.5 -1.5l1.1 -1.6l.9 -1.7l.6 -1.8l.2 -1.8l0 -1.9l-.4 -2l-.8 -2.4l-1.2 -2.7l-2.7 -4.8l-2.1 -3.3l-1.9 -2.7l-2.2 -2.6l-2.3 -2.5l-2.5 -2.4l-3.3 -2.7l-3.6 -2.6l-3.6 -2.3l-3.6 -1.9l-3.3 -1.5l-2.8 -.8l-2.2 -.3l-.9 .1l-.7 .2l-.8 .8l-.4 1.3l0 1.8l.3 2.5l.8 3.1l1.1 3.6l1.4 4.1l1.8 4.2l3.8 8.3l2 3.7l2.1 3.4l1.9 2.9l1.9 2.5l1.9 2.1l1.9 1.6l1.6 1.2l1.6 .9l1.6 .6l1.6 .2l1.5 0l1.4 -.3l1.5 -.7l1.4 -.9l1.3 -1.2l1.1 -1.4l.9 -1.5l.6 -1.7l.3 -1.8l.1 -1.8l-.1 -1.9l-.5 -2.1l-.8 -2.6l-1.3 -2.8l-4.7 -8.6l-1.7 -2.7l-1.7 -2.4l-1.9 -2.3l-2 -2l-2.4 -2.2l-2.6 -2l-2.6 -1.7l-2.6 -1.4l-2.5 -1l-2.3 -.5l-1.8 -.1l-1.5 .4l-.9 .7l-.5 1.1l-.3 1.6l.1 2l.3 2.4l.6 2.8l.9 3.2l1.2 3.5l1.4 3.6l1.7 3.8l1.7 3.6l1.8 3.3l1.8 2.9l1.7 2.6l1.8 2.2l1.8 1.9l1.7 1.4l1.6 1.1l1.7 .8l1.6 .5l1.7 .1l1.5 -.2l1.5 -.5l1.5 -1l1.3 -1.1l1.1 -1.4l.8 -1.6l.6 -1.7l.2 -1.9l-.1 -1.9l-.4 -2l-.6 -2.2l-1 -2.3l-1.3 -2.7l-2.5 -4.7l-1.9 -3.2l-1.7 -2.4l-1.7 -2.2l-1.8 -2.1l-1.9 -1.9l-2.2 -1.9l-2.3 -1.7l-2.4 -1.3l-2.2 -1.1l-2.2 -.6l-1.8 -.3l-1.6 .2l-1.3 .6l-.8 .9l-.5 1.2l-.3 1.7l0 2.1l.3 2.4l.6 2.8l.8 3l1.1 3.2l1.3 3.5l1.5 3.6l1.6 3.2l1.6 3l1.7 2.7l1.7 2.4l1.7 2l1.7 1.7l1.4 1.1l1.4 .8l1.4 .6l1.4 .3l1.2 0l1.4 -.2l1.2 -.6l1.2 -.8l1.2 -1.1l.9 -1.3l.8 -1.4l.6 -1.6l.3 -1.7l.1 -1.7l-.1 -1.8l-.4 -1.9l-.7 -2.3l-1 -2.6l-3.9 -7.5l-1.5 -2.5l-1.5 -2.1l-1.5 -2l-1.7 -1.8l-1.9 -1.8l-2 -1.5l-2 -1.3l-2.1 -1l-1.9 -.7l-1.9 -.3l-1.6 .1l-1.2 .4l-.9 .7l-.6 1l-.3 1.4l-.2 1.6l.2 2l.3 2.3l.6 2.5l.9 2.8l2.3 6.1l3 6l1.6 2.6l1.6 2.4l1.6 2.1l1.5 1.7l1.5 1.3l1.4 1.1l1.4 .7l1.4 .4l1.3 .1l1.3 -.2l1.2 -.5l1.2 -.9l1 -1l.9 -1.4l.6 -1.4l.4 -1.6l.1 -1.7l-.1 -1.8l-.3 -1.9l-.6 -2l-1.8 -4.5l-3.8 -7.4l-2.6 -3.9l-1.4 -1.7l-1.4 -1.5l-1.6 -1.5l-1.8 -1.3l-1.7 -1l-1.7 -.6l-1.7 -.4l-1.6 -.1l-1.3 .3l-1 .6l-.8 .9l-.5 1.2l-.4 1.5l-.1 1.8l.1 2l.4 2.3l.5 2.5l.8 2.7l2.1 5.7l2.6 5.4l1.5 2.4l1.4 2.1l1.5 1.8l1.5 1.6l1.3 1.1l1.2 .8l1.3 .6l1.2 .4l1.2 .1l1.2 -.1l1.1 -.4l1 -.6l1 -.9l.9 -1l.7 -1.3l.5 -1.4l.2 -1.4l.1 -1.6l-.1 -1.6l-.3 -1.8l-.6 -2.1l-.9 -2.3l-3.4 -6.7l-2.6 -4.2l-2.7 -3.4l-1.5 -1.5l-1.5 -1.3l-1.6 -1l-1.6 -.8l-1.6 -.5l-1.5 -.2l-1.3 0l-1.1 .4l-.9 .7l-.6 .9l-.5 1.2l-.2 1.5l-.1 1.8l.2 2l.4 2.2l.5 2.4l1.8 5.2l2.3 5.1l2.7 4.4l1.4 1.8l1.4 1.6l1.2 1.2l1.3 .9l1.2 .7l1.2 .5l1.2 .2l1.1 0l1.1 -.2l1.1 -.5l1 -.7l.9 -1l.7 -1.1l.5 -1.3l.4 -1.4l.1 -1.4l0 -1.6l-.3 -1.6l-.6 -2.1l-.8 -2.2l-3 -6l-2.4 -4.1l-2.5 -3.1l-1.4 -1.4l-1.5 -1.2l-1.5 -1l-1.5 -.8l-1.6 -.5l-1.4 -.3l-1.3 .1l-1.1 .3l-.9 .6l-.6 .7l-.5 1.1l-.3 1.3l-.1 1.6l.1 1.8l.3 1.9l.4 2.2l1.6 4.7l2.2 4.7l2.5 4.2l1.4 1.8l1.4 1.6l2.4 2.1l1.2 .8l1.2 .6l1.1 .4l1.1 .1l1.1 -.1l1 -.2l1 -.6l.9 -.7l.8 -1l.5 -1l.4 -1.2l.1 -1.3l0 -1.5l-.2 -1.4l-.5 -1.9l-.8 -2l-2.7 -5.4l-2.5 -4.4l-2.5 -3.5l-2.6 -2.6l-1.4 -1.1l-1.3 -.8l-1.3 -.6l-1.2 -.3l-1.2 -.1l-.9 .2l-.9 .5l-.6 .7l-.5 .9l-.3 1.3l-.1 1.5l0 1.7l.6 4l1.3 4.6l1.9 4.6l2.1 3.9l2.4 3.2l2.3 2.2l1.1 .8l1.1 .5l1.2 .4l1 .1l1.1 0l1 -.3l1 -.6l.9 -.7l.7 -1l.6 -1.1l.3 -1.1l.2 -1.3l0 -1.4l-.2 -1.5l-.5 -1.8l-.7 -1.8l-2.5 -5.2l-2.2 -3.9l-2.3 -3.1l-2.5 -2.4l-1.3 -1l-1.3 -.8l-1.3 -.6l-1.3 -.3l-1.1 -.1l-1.1 .1l-.8 .4l-.7 .5l-.5 .8l-.3 1.1l-.2 1.3l0 1.5l.5 3.5l1.2 4.1l1.8 4.2l2.1 3.7l2.3 3.2l2.2 2.1l2.2 1.5l1.1 .5l1.1 .2l1 .1l1 -.2l.9 -.3l.9 -.6l.8 -.8l.5 -.9l.4 -1.1l.2 -1.1l0 -1.2l-.2 -1.4l-.4 -1.5l-.6 -1.8l-2.3 -4.6l-2.2 -4l-2.2 -3.1l-2.3 -2.4l-2.3 -1.8l-1.2 -.6l-1.1 -.4l-1 -.2l-1 0l-.9 .2l-.7 .5l-.5 .7l-.4 .9l-.2 1.1l-.1 1.4l.3 3.2l1 4l1.6 4.1l1.8 3.3l2.1 2.9l2.1 2.2l2.2 1.5l1.1 .6l1.1 .3l1.1 .2l1 -.1l1 -.2l.9 -.5l.8 -.6l.5 -.7l.5 -.9l.2 -1l0 -1.1l-.1 -1.3l-.4 -1.4l-.6 -1.7l-2.2 -4.5l-2.3 -4l-2.3 -3.1l-2.3 -2.5l-2.3 -1.8l-1.1 -.7l-1.1 -.4l-1 -.2l-.9 0" fill="none" stroke="#ea1e26" stroke-width="1.30" stroke-linejoin="round"/><path d="M554.1 652.6l10.5 -5.4l9.8 -5.2l8.8 -5.2l7.7 -4.9l6.5 -4.6l4.5 -3.7l4.4 -4.3l4 -4.7l3.3 -4.7l2.1 -3.8l1.3 -3.3l.3 -1.5l.1 -1.2l-.2 -1.1l-1.6 -5.2l-1.7 -4.7l-1.1 -2.3l-1.1 -1.9l-1.3 -1.7l-1.1 -1.5l-1.6 -1.6l-1.6 -1.3l-2 -1.4l-2 -1.1l-3.1 -1.5l-171.9 -87.6l.4 .3l-.9 .5l-.6 .6l-.3 .7l.1 .7l.3 .5l1 .8l.1 1l4.4 11.8l11.1 27.1l5.2 12l16.5 37.1l9.4 20.2l3.7 7.6l3.1 5.9l2.7 4.6l2.4 3.6l2.4 2.9l2.3 2.2l1.7 1.1l1.8 1l1.9 .6l1.9 .3l1.9 0l2.1 -.2l2.3 -.6l2.1 -.8l3.4 -1.5l3.9 -2l4 -2.3l3.6 -2.4l3.6 -2.5l3.6 -2.8l3 -2.5l2.9 -2.7l2 -2.1l2 -2.3l1.5 -2l1.4 -2.1l1.2 -2.1l.8 -1.8l.8 -2.2l.4 -1.8l.3 -1.9l.1 -1.9l-.2 -1.9l-.4 -2l-.5 -2l-.9 -2l-1 -2.1l-1.2 -2.1l-6 -9.1l-2.8 -4l-3.8 -4.8l-3.6 -4.1l-4.9 -4.8l-4.5 -4l-5.8 -4.6l-6.1 -4.5l-9.1 -5.9l-10 -5.8l-10.9 -5.9l-10.2 -4.9l-7.6 -3.3l-3.3 -1.2l-2.9 -.8l-1.9 -.4l-1.9 -.2l-1.4 .2l-1.1 .6l-.6 .8l-.4 1.2l-.1 1.7l.2 2.1l.4 2.6l.6 2.8l2 7.2l3.1 8.9l4.1 11l5.2 12.6l6.1 14.3l5.9 13.2l3.7 7.8l3.9 7.7l3.3 5.9l2.8 4.1l2.7 3l1.2 1.1l1.3 .9l1.3 .6l1.3 .3l2.2 .1l1.4 -.2l1.5 -.4l3 -1.3l3.8 -2.2l4 -2.7l4.1 -3.4l3.5 -3.2l3.2 -3.6l2.3 -2.9l2 -3.1l1.5 -3l1 -2.7l.7 -2.9l.2 -2.9l-.2 -3l-.5 -2.7l-1.3 -3.6l-2 -4.1l-4.7 -8.4l-1.9 -2.9l-2.1 -2.9l-3.6 -4.4l-3.6 -3.8l-4.6 -4.1l-4.9 -3.9l-6.9 -4.7l-7.6 -4.6l-7.9 -4.1l-8 -3.5l-6.6 -2.4l-2.8 -.7l-2.4 -.5l-2.4 -.2l-1.9 .1l-1.3 .3l-1.1 .7l-.6 .8l-.5 1.2l-.2 1.3l0 1.8l.2 2l.5 2.3l1.5 5.6l2.4 7l3.4 8.5l4.3 10l5 10.9l4.5 9.2l4 7.6l3.5 6.3l3.2 5l3 3.9l2.8 2.9l2.6 2l1.5 .7l1.3 .5l2.2 .4l2.1 -.1l2.6 -.6l2.7 -1l3.1 -1.6l3.2 -2.1l2.9 -2.3l2.6 -2.5l2 -2.2l1.7 -2.5l1.3 -2.4l.9 -2.3l.6 -2.4l.1 -2.2l-.1 -2.4l-.6 -2.4l-1.1 -3.2l-1.9 -3.7l-3.6 -6.4l-3.4 -5l-3.1 -3.9l-3.1 -3.4l-3.6 -3.3l-4.3 -3.6l-6.1 -4.6l-6.7 -4.4l-6.9 -4.1l-7.1 -3.7l-5.5 -2.4l-2.4 -.9l-2.2 -.6l-1.8 -.3l-1.6 -.1l-1.2 .2l-.9 .4l-.6 .6l-.4 .9l-.2 1.2l0 1.4l.6 3.6l1.4 4.9l2.3 6.3l3.1 7.5l3.9 8.6l4.3 8.8l3.5 6.8l3.3 5.9l2.9 4.8l2.9 4.1l2.6 3.3l2.5 2.5l2.6 2.1l2.6 1.4l2 .7l2.1 .3l2 0l2.2 -.3l2.4 -.7l2.4 -1l2.5 -1.3l2.3 -1.6l1.9 -1.6l1.7 -1.7l1.3 -1.8l1.1 -1.9l.6 -1.8l.3 -1.8l-.1 -2l-.3 -1.9l-1 -2.5l-1.4 -2.6l-3.5 -5.8l-2.7 -3.7l-2.6 -3.3l-2.6 -2.9l-3 -3l-3.5 -3.3l-5.3 -4.4l-5.9 -4.5l-6.8 -4.9l-6.6 -4.4l-4.7 -2.8l-3.6 -1.8l-2.7 -.9l-.9 0l-.7 .2l-.4 .4l-.3 .6l0 2l.6 3l1.3 4.4l2 5.7l2.7 6.7l3.1 7.4l3.4 7.5l2.7 5.7l2.7 5.1l2.5 4.5l2.2 3.6l2.3 3.2l2.1 2.5l2 2l2 1.4l1.7 .7l1.6 .4l1.8 0l1.8 -.3l2 -.8l1.9 -1.1l1.9 -1.5l2 -1.7l1.5 -1.9l1.3 -1.9l1 -1.9l.7 -1.9l.5 -2l.2 -2.1l-.2 -2l-.4 -2.1l-.9 -2.6l-1.4 -3.1l-3.3 -5.9l-2.5 -4.1l-2.3 -3.1l-2.4 -2.8l-2.7 -2.8l-2.9 -2.6l-3.9 -3.2l-4.7 -3.3l-4.8 -2.9l-4.9 -2.7l-3.9 -1.7l-3.4 -1.1l-1.4 -.3l-1.1 0l-.9 .2l-.7 .4l-.4 .5l-.3 .6l-.2 1l0 1.1l.4 3.2l1.1 4l1.6 5.1l2.1 5.7l2.5 6.2l2.7 6l2.4 5l2.4 4.4l2.4 4.1l2.2 3.3l2.2 2.9l2.1 2.3l2.1 1.8l2.1 1.5l1.8 .8l1.7 .4l1.8 .2l1.7 -.1l1.8 -.5l1.9 -.9l1.9 -1.1l1.9 -1.4l1.5 -1.4l1.4 -1.7l1 -1.7l.8 -1.7l.6 -1.9l.2 -1.7l-.1 -1.9l-.3 -2l-.8 -2.5l-1.3 -2.8l-2.9 -5.2l-2.2 -3.5l-2.2 -3l-2.3 -2.7l-2.5 -2.7l-2.8 -2.5l-3.7 -3l-4 -3l-4.5 -2.8l-4.4 -2.4l-4 -1.8l-3.2 -1l-2.3 -.4l-1 .2l-.6 .3l-.5 .4l-.3 .6l-.2 1.8l.4 2.8l.8 3.5l1.4 4.7l1.9 5.1l2.1 5.4l2.4 5.3l2.1 4.4l2.1 4l2.1 3.5l2 3l2 2.6l2.1 2.2l2 1.8l2 1.4l1.7 .9l1.6 .5l1.7 .3l1.6 0l1.6 -.3l1.7 -.6l1.8 -.9l1.6 -1.1l1.5 -1.3l1.2 -1.4l1.1 -1.6l.7 -1.6l.6 -1.7l.2 -1.7l-.1 -1.8l-.3 -1.8l-.7 -2.4l-1.3 -2.7l-2.8 -5.1l-2.1 -3.4l-1.9 -2.7l-2.2 -2.7l-2.4 -2.6l-2.6 -2.4l-3.5 -2.9l-3.5 -2.6l-4 -2.5l-3.6 -1.9l-3.4 -1.5l-2.8 -.8l-2.3 -.3l-.8 .1l-.7 .3l-.5 .4l-.3 .5l-.4 1.6l.1 2.2l.5 2.9l1 3.7l1.4 4.1l1.8 4.7l2 4.6l2 4.2l2.1 4l2.1 3.6l2.2 3.3l1.9 2.6l2.1 2.3l1.9 1.9l2 1.4l1.5 .8l1.4 .6l1.5 .3l1.5 0l1.4 -.2l1.3 -.5l1.4 -.8l1.3 -1l1.2 -1.2l1 -1.4l.7 -1.5l.5 -1.5l.3 -1.6l.1 -1.7l-.1 -1.7l-.4 -1.9l-.8 -2.8l-1.2 -2.9l-1.7 -3.3l-3.1 -5.5l-1.7 -2.8l-2 -2.7l-1.9 -2.3l-2.1 -2.2l-2.5 -2.3l-2.6 -2l-2.7 -1.8l-2.8 -1.4l-2.7 -1l-2.2 -.5l-1.9 0l-1.4 .5l-.8 .7l-.5 1.2l-.3 1.7l.1 2.2l.4 2.6l.7 3l1 3.3l1.3 3.5l1.4 3.7l1.7 3.8l1.8 3.6l1.8 3.2l1.7 2.9l1.9 2.6l1.7 2.2l1.8 1.8l1.8 1.5l1.7 1.1l1.8 .8l1.7 .4l1.6 0l1.7 -.3l1.6 -.7l1.4 -1l1.3 -1.3l1.1 -1.5l.7 -1.6l.4 -1.8l.1 -1.9l-.1 -2l-.5 -2.1l-.8 -2.3l-1.2 -2.8l-2.4 -4.5l-1.6 -3l-1.7 -2.8l-1.8 -2.5l-1.7 -2.1l-1.9 -2l-1.9 -1.9l-2.3 -1.9l-2.5 -1.7l-2.4 -1.4l-2.2 -.9l-2.2 -.6l-1.8 -.1l-1.5 .3l-1.2 .8l-.8 1.1l-.4 1.5l-.2 2l.2 2.3l.5 2.9l.8 3.2l1 3.4l1.4 3.6l1.5 3.7l1.6 3.4l1.7 3.2l1.8 2.9l1.7 2.5l1.8 2.2l1.8 1.8l1.7 1.4l1.3 .7l1.2 .6l1.3 .3l1.3 .1l1.2 -.2l1.2 -.4l1.2 -.7l1 -.8l1.1 -1.1l.8 -1.3l.7 -1.3l.5 -1.4l.3 -1.5l.1 -1.6l-.1 -1.7l-.2 -1.6l-.6 -2.4l-1 -2.7l-1.4 -2.8l-2.5 -4.8l-1.5 -2.7l-1.6 -2.4l-1.7 -2.2l-1.7 -1.9l-2 -1.8l-2.1 -1.7l-2.1 -1.3l-2.2 -1.1l-2.1 -.7l-1.9 -.3l-1.6 .1l-1.3 .5l-.8 .8l-.6 1l-.3 1.4l-.1 1.8l.2 2.1l.4 2.3l.6 2.8l.9 2.8l2.5 6.2l1.5 3.2l1.6 2.9l1.6 2.6l1.6 2.4l1.6 2.1l1.6 1.7l1.6 1.3l1.4 1l1.5 .7l1.4 .3l1.4 0l1.2 -.3l1.3 -.7l1.2 -.9l1 -1.2l.8 -1.4l.5 -1.5l.3 -1.7l.1 -1.8l-.2 -2l-.4 -1.9l-.7 -2.2l-2 -4.6l-2.4 -4.6l-1.5 -2.7l-2.7 -3.9l-1.4 -1.7l-1.6 -1.5l-1.7 -1.4l-1.8 -1.2l-1.8 -.9l-1.8 -.6l-1.6 -.3l-1.5 .1l-1.3 .5l-.9 .8l-.7 1.1l-.5 1.5l-.2 1.9l.1 2l.3 2.4l.5 2.6l.8 2.9l.9 2.8l1.2 3l1.3 3l1.4 2.6l1.5 2.5l1.5 2.3l1.6 1.9l1.5 1.6l1.6 1.3l1.2 .8l1.2 .5l1.1 .4l1.1 .1l1 -.1l1 -.2l1 -.5l.9 -.7l.9 -.8l.7 -1l.6 -1.1l.5 -1.3l.3 -1.3l.1 -1.5l-.3 -2.9l-.5 -2.2l-.9 -2.5l-3.1 -6.4l-2.9 -4.9l-1.5 -2.1l-1.4 -1.7l-1.7 -1.7l-1.6 -1.3l-1.7 -1.1l-1.8 -.9l-1.6 -.5l-1.6 -.2l-1.3 .2l-1.2 .5l-.8 .7l-.6 1.1l-.4 1.5l-.2 1.7l.1 2.1l.3 2.2l.6 2.6l.7 2.7l1 2.8l1.2 2.9l1.3 2.6l1.3 2.5l1.5 2.2l1.5 2.1l1.5 1.6l1.5 1.4l2.3 1.4l1.1 .4l1 .3l1.1 0l.9 -.1l1 -.4l1 -.5l.8 -.7l.8 -.9l.7 -1.1l.4 -1.1l.4 -1.3l.1 -1.3l-.1 -2.7l-.4 -1.8l-.6 -2.1l-2.1 -4.6l-1.9 -3.7l-1.4 -2.4l-1.5 -2.1l-1.6 -2l-1.5 -1.5l-1.5 -1.2l-1.6 -1.1l-1.7 -.8l-1.6 -.6l-1.5 -.2l-1.4 .1l-1.1 .4l-.9 .7l-.7 1l-.4 1.3l-.2 1.6l0 1.8l.2 2l.5 2.3l.7 2.4l.9 2.6l1.1 2.5l2.5 4.9l1.4 2.1l1.5 2l1.4 1.6l1.5 1.4l2.2 1.5l2.1 .8l1.1 .2l.9 0l1 -.2l.8 -.3l.9 -.6l.8 -.7l.6 -.8l.5 -1l.3 -1l.2 -1.2l0 -2.5l-.4 -1.6l-.5 -1.8l-1.8 -3.9l-3.5 -6.7l-1.5 -2.2l-1.5 -2l-1.4 -1.5l-1.4 -1.4l-1.4 -1l-1.4 -.9l-1.4 -.6l-1.3 -.3l-1.2 0l-1 .2l-.9 .6l-.6 .8l-.4 1.2l-.3 1.5l0 1.7l.1 2l.4 2.2l.5 2.4l1.7 4.9l2.1 4.6l1.2 2.1l1.2 1.8l1.3 1.6l1.3 1.4l2.1 1.5l1.9 .9l1.1 .2l.9 0l.9 -.1l.9 -.3l.9 -.5l.8 -.7l.7 -.8l.5 -1l.4 -1l.3 -1.1l0 -2.5l-.3 -1.5l-.4 -1.6l-1.6 -3.8l-3.2 -6.1l-1.3 -2l-1.5 -1.9l-1.3 -1.4l-1.4 -1.3l-1.3 -1.1l-1.4 -.8l-1.4 -.6l-1.3 -.4l-1.3 -.1l-1 .2l-.9 .4l-.7 .7l-.5 .9l-.3 1.3l-.1 1.4l.1 1.8l.7 4l1.6 4.5l2 4.3l2.4 3.8l1.4 1.7l1.3 1.3l2 1.6l2 1.1l1.9 .4l.8 -.1l.9 -.2l.8 -.3l.8 -.6l.7 -.6l.5 -.8l.4 -.9l.2 -1l.1 -2.1l-.2 -1.4l-.4 -1.5l-1.5 -3.4l-3 -5.9l-1.3 -2.1l-1.4 -1.9l-2.4 -2.6l-2.5 -1.9l-1.2 -.7l-1.3 -.4l-1.1 -.2l-1 0l-.9 .3l-.7 .6l-.5 .9l-.4 1l-.2 1.4l0 1.5l.6 3.7l1.2 4.1l1.8 4.2l2.1 3.5l1.2 1.6l1.3 1.3l1.9 1.7l2 1.1l1.9 .6l1.9 .1l.8 -.2l.9 -.4l.7 -.6l.5 -.6l.8 -1.5l.1 -2l-.1 -1.2l-.4 -1.3l-1.2 -3.1l-3.1 -5.8l-2.7 -4.1l-2.3 -2.7l-2.5 -2.1l-1.2 -.7l-1.1 -.5l-1.1 -.3l-1 -.1l-.8 .2l-.8 .5l-.6 .7l-.4 1l-.2 1.2l-.1 1.5l.4 3.4l1.1 4l1.7 4l2 3.5l2.3 2.9l1.9 1.8l2 1.2l1.9 .7l1.9 .2l.8 -.2l.8 -.3l.7 -.4l.6 -.6l.8 -1.4l.2 -1.8l-.3 -2.4l-1.2 -3l-2.9 -5.7l-2.5 -3.9l-2.2 -2.7l-2.3 -2.1l-1.1 -.8l-1.1 -.5l-1.1 -.4l-.9 -.1l-.9 .2l-.8 .4l-.5 .6l-.5 .8l-.3 1.1l-.1 1.4l.2 3.1l1 3.8l1.5 3.9l1.9 3.4l2.2 2.8l1.8 1.8l1.9 1.3l2 .9l1.8 .2l1.6 -.3l.7 -.4l.6 -.5l.5 -.6l.4 -.7l.3 -1.7l-.4 -2.4l-1 -2.8l-2.9 -5.6l-2.2 -3.7l-2.1 -2.6l-2.2 -2l-2 -1.3l-1 -.4l-.9 -.2l-.9 .1l-.8 .3l-.6 .5l-.5 .8l-.3 1l-.2 1.3l.1 2.9l.8 3.6l1.4 3.7l1.8 3.3l2.1 2.8l1.8 1.8l1.8 1.4l1.9 .8l1.8 .4l1.6 -.2l.7 -.4l.6 -.4l.5 -.6l.4 -.6l.3 -1.7l-.3 -2.2l-1 -2.8l-2.7 -5.3l-2.2 -3.6l-1.9 -2.6l-2 -1.9l-2 -1.3l-.9 -.4l-.9 -.2l-.9 0l-.7 .3l-.7 .5l-.5 .8l-.3 .9l-.2 1.2l0 2.8l.8 3.4l1.3 3.5l1.6 3.2l2 2.6l1.7 1.8l1.8 1.4l1.9 .8l1.7 .4l1.6 -.1l1.3 -.7l.8 -1.2l.3 -1.5l-.2 -2.1l-.9 -2.7l-2.6 -5.2l-2.1 -3.4l-1.9 -2.5l-1.9 -1.9l-1.9 -1.3l-1.6 -.5l-.9 0l-.8 .2l-.6 .5l-.5 .7l-.3 .9l-.3 1.1l.1 2.7l.6 3.2l1.2 3.3l1.6 3.1l1.8 2.6l1.7 1.7l1.8 1.3l1.8 .9l1.7 .4l1.6 -.1l1.2 -.6l.8 -1.1l.3 -1.5l-.2 -2l-.9 -2.5l-2.5 -5l-2 -3.4l-1.7 -2.3l-1.8 -1.9l-1.8 -1.2l-1.6 -.6l-.9 0l-.7 .2l-.6 .5l-.5 .6l-.4 .9l-.2 1l0 2.6l.5 3l1.2 3.2l1.4 2.9l1.8 2.5l1.6 1.7l1.8 1.3l1.7 .9l1.6 .4l1.6 0l1.2 -.6l.7 -1l.4 -1.4l-.3 -2l-.8 -2.4l-2.4 -4.8l-1.8 -3.2l-1.7 -2.3l-1.7 -1.8l-1.7 -1.2l-1.5 -.6l-.8 0l-.8 .2l-.6 .4l-.5 .7l-.3 .7l-.3 1.1l0 2.4l.5 2.9l1 3l1.4 2.7l1.7 2.5l1.6 1.6l1.6 1.3l1.7 .9l1.6 .5l1.5 -.1l1.2 -.5l.7 -1l.3 -1.3l-.2 -1.9l-.8 -2.3l-2.2 -4.5l-1.8 -3.2l-1.6 -2.2l-1.7 -1.7l-1.5 -1.2l-1.5 -.5l-.7 -.1l-.7 .2l-.6 .4l-.5 .6l-.4 .7l-.3 1l-.1 2.3l.5 2.7l.9 2.8l1.3 2.7l1.7 2.4l1.5 1.6l1.6 1.3l1.6 .8l1.6 .5l1.4 0l1.2 -.4l.7 -.9l.3 -1.3l-.2 -1.8l-.7 -2.2l-2.2 -4.4l-1.7 -3l-1.5 -2.2l-1.5 -1.6l-1.5 -1.2l-1.4 -.5l-.8 -.1l-.6 .2l-.6 .3l-.5 .6l-.4 .7l-.3 .9l-.1 2.2l.4 2.5l.9 2.8l1.2 2.6l1.6 2.2l1.4 1.6l1.6 1.2l1.5 .9l1.6 .5l1.4 0l1.1 -.4l.7 -.8l.3 -1.3l-.2 -1.7l-.7 -2.2l-2.1 -4.2l-1.6 -2.9l-1.4 -2l-1.5 -1.6l-1.4 -1.1l-1.4 -.6l-.7 0l-.6 .1l-.6 .4l-.5 .5l-.3 .7l-.3 .8l-.1 2.1l.3 2.5l.8 2.6l1.2 2.4l1.5 2.2l1.4 1.5l1.5 1.2l1.5 .9l1.5 .5l1.4 0l1 -.3l.7 -.8l.3 -1.2l-.1 -1.6l-.7 -2.1l-2 -4.1l-1.6 -2.8l-1.4 -2l-1.3 -1.5l-1.4 -1l-1.3 -.6l-.6 0l-.7 .1l-.5 .3l-.5 .5l-.6 1.4l-.2 2.1l.3 2.2l.8 2.5l1.1 2.3l1.4 2.1l1.3 1.5l1.4 1.2l1.5 .9l1.5 .5l1.3 .1l1.1 -.4l.7 -.7l.3 -1.1l-.2 -1.6l-.7 -2l-1.8 -3.8l-1.6 -2.8l-1.3 -1.9l-1.3 -1.4l-1.2 -1.1l-1.3 -.5l-.6 -.1l-.7 .1l-.5 .3l-.4 .5l-.7 1.4l-.1 1.9l.2 2.2l.7 2.3l1 2.2l1.4 2l1.3 1.5l1.3 1.1l1.5 .9l1.4 .5l1.3 .1l1.1 -.3l.6 -.7l.3 -1.1l-.2 -1.5l-.6 -1.9l-1.8 -3.6l-1.4 -2.7l-1.3 -1.8l-1.2 -1.4l-1.2 -1l-1.2 -.6l-.6 0l-.6 .1l-.6 .2l-.4 .5l-.6 1.3l-.2 1.8l.2 2.1l.7 2.2l.9 2.2l1.3 1.9l1.3 1.4l1.3 1.1l1.4 .9l1.4 .5l1.3 .1l.9 -.3l.7 -.7l.2 -1l-.1 -1.5l-.6 -1.8l-1.8 -3.6l-1.4 -2.5l-1.2 -1.7l-1.1 -1.4l-1.2 -.9l-1.1 -.5l-.6 -.1l-.6 .1l-.5 .2l-.4 .5l-.6 1.3l-.2 1.7l.2 2l.6 2.1l1 2l1.2 1.9l1.2 1.3l1.2 1.1l1.4 .9l1.3 .4l1.3 .2l.9 -.3l.6 -.7l.3 -.9l-.1 -1.4l-.6 -1.8l-1.7 -3.3l-1.3 -2.5l-1.2 -1.7l-1.1 -1.3l-1.1 -.9l-1 -.5l-.6 -.1l-.6 .1l-.4 .2l-.5 .4l-.6 1.3l-.2 1.6l.2 1.9l.6 2l.8 2l1.2 1.7l1.1 1.3l1.3 1.1l1.3 .9l1.3 .4l1.2 .2l.9 -.3l.6 -.6l.3 -1l-.2 -1.3l-.6 -1.7l-1.5 -3.2l-1.3 -2.4l-1.1 -1.6l-1.1 -1.3l-1.1 -.8l-1 -.5l-1 0l-.9 .6l-.6 1.2l-.2 1.6l.2 1.8l.5 1.9l.8 1.8l1.1 1.7l1.1 1.3l1.3 1.1l1.2 .8l1.3 .4l1.1 .2l.9 -.3l.6 -.6l.2 -.9l-.1 -1.2l-.5 -1.6l-2.8 -5.4l-1 -1.6l-1.1 -1.2l-1 -.8l-.9 -.5l-1.1 0l-.8 .6l-.6 1.1l-.2 1.5l.2 1.7l.5 1.8l.7 1.8l1.1 1.6l1 1.3l1.2 1l1.2 .8l1.3 .4l1.1 .2l.8 -.3l.6 -.5l.2 -.9l-.1 -1.2l-.6 -1.6l-2.6 -5.2l-1 -1.5l-1 -1.1l-.9 -.8l-.9 -.4l-1 0l-.8 .5l-.6 1.1l-.2 1.4l.1 1.6l.5 1.8l.7 1.7l1 1.6l1 1.1l1.1 1l1.2 .8l1.2 .5l1.1 .1l.9 -.2l.5 -.5l.2 -.9l-.1 -1.1l-.5 -1.5l-2.6 -5l-.9 -1.4l-1 -1.1l-.9 -.8l-.8 -.4l-1 -.1l-.8 .5l-.5 1.1l-.2 1.3l.1 1.6l.4 1.7l.7 1.6l1 1.5l.9 1.1l1.1 1l1.2 .7l1.1 .5l1.1 .1l.8 -.2l.5 -.5l.2 -.8l-.1 -1.1l-.5 -1.5l-2.5 -4.7l-.9 -1.4l-.9 -1l-.8 -.8l-.8 -.4l-1 0l-.7 .5l-.5 1l-.2 1.3l.1 1.5l.4 1.5l.6 1.6l.9 1.4l.9 1.1l1.1 1l1.1 .7l1.1 .4l1 .2l.8 -.2l.5 -.5l.2 -.8l-.1 -1.1l-.5 -1.3l-2.4 -4.6l-.8 -1.3l-.9 -1l-.8 -.8l-.8 -.3l-.8 -.1l-.8 .5l-.5 .9l-.2 1.3l.1 1.4l.4 1.5l.6 1.5l.9 1.4l.9 1l.9 .9l1.1 .8l1.1 .4l1 .1l.8 -.1l.4 -.5l.2 -.8l-.1 -1l-.5 -1.3l-2.2 -4.4l-1.6 -2.2l-.8 -.7l-.8 -.4l-.8 0l-.7 .4l-.5 .9l-.2 1.2l.1 1.3l.3 1.5l.6 1.4l.8 1.3l.9 1.1l.9 .9l1.1 .7l1 .4l1 .1l.7 -.2l.5 -.4l.1 -.8l-.1 -1l-.5 -1.2l-2.1 -4.2l-1.6 -2.1l-.7 -.7l-.7 -.4l-.8 0l-.7 .4l-.5 .9l-.2 1.1l.1 1.3l.3 1.4l.6 1.3l.7 1.3l.9 1l.9 .9l1 .6l1 .4l.9 .2l.8 -.2l.4 -.4l.2 -.7l-.2 -1l-.4 -1.2l-2.1 -4l-1.5 -2.1l-.7 -.6l-.7 -.3l-.7 -.1l-.7 .4l-.4 .8l-.2 1.1l0 1.2l.3 1.3l.6 1.3l.7 1.3l.8 1l.9 .8l1 .6l.9 .4l.9 .2l.7 -.2l.4 -.4l.2 -.7l-.1 -.9l-.5 -1.2l-1.9 -3.9l-1.5 -1.9l-.6 -.6l-.7 -.3l-.7 -.1l-.6 .4l-.5 .8l-.2 1l.1 1.2l.2 1.2l.5 1.3l.7 1.2l.8 .9l.9 .8l.9 .6l.9 .4l.9 .2l.7 -.2l.4 -.4l.1 -.6l-.1 -.9l-.4 -1.2l-1.9 -3.7l-1.4 -1.8l-.6 -.6l-.6 -.3l-.7 -.1l-.6 .4l-.5 .7l-.2 1l.1 1.1l.2 1.2l.5 1.2l.7 1.1l.7 .9l.9 .8l.9 .7l.9 .3l.8 .2l.6 -.1l.4 -.4l.2 -.7l-.2 -.8l-.3 -1.1l-1.8 -3.5l-1.3 -1.8l-.7 -.6l-.6 -.3l-.7 -.1l-.5 .4l-.4 .7l-.2 .9l0 1.1l.3 1.1l.4 1.2l.6 1l.7 .9l.9 .8l.8 .6l.9 .4l.8 .1l.6 -.1l.4 -.4l.1 -.7l-.1 -.8l-.5 -1.2l-2 -3.9l-.8 -.9l-.7 -.6l-.6 -.3l-.6 -.1" fill="none" stroke="#0f71ba" stroke-width="0.90" stroke-linejoin="round"/><path d="M507.50 678.70L663.10 623.20M507.50 678.70L388.10 605.90M388.10 605.90L388.10 445.70M507.50 678.70L511.17 680.94M546.40 664.83L550.07 667.06M585.30 650.95L588.97 653.19M624.20 637.08L627.87 639.31M663.10 623.20L666.77 625.44M507.50 678.70L503.45 680.14M477.65 660.50L473.60 661.94M447.80 642.30L443.75 643.74M417.95 624.10L413.90 625.54M388.10 605.90L384.05 607.34M388.10 605.90L384.43 603.66M388.10 573.86L384.43 571.62M388.10 541.82L384.43 539.58M388.10 509.78L384.43 507.54M388.10 477.74L384.43 475.50M388.10 445.70L384.43 443.46" fill="none" stroke="#262626" stroke-width="1.15"/><text transform="translate(381.70 607.80) scale(0.800 1)" font-size="10.40" text-anchor="end" font-family='"Liberation Sans", sans-serif' fill="#262626">0</text><text transform="translate(381.70 575.76) scale(0.800 1)" font-size="10.40" text-anchor="end" font-family='"Liberation Sans", sans-serif' fill="#262626">0.5</text><text transform="translate(381.70 543.72) scale(0.800 1)" font-size="10.40" text-anchor="end" font-family='"Liberation Sans", sans-serif' fill="#262626">1</text><text transform="translate(381.70 511.68) scale(0.800 1)" font-size="10.40" text-anchor="end" font-family='"Liberation Sans", sans-serif' fill="#262626">1.5</text><text transform="translate(381.70 479.64) scale(0.800 1)" font-size="10.40" text-anchor="end" font-family='"Liberation Sans", sans-serif' fill="#262626">2</text><text transform="translate(381.70 447.60) scale(0.800 1)" font-size="10.40" text-anchor="end" font-family='"Liberation Sans", sans-serif' fill="#262626">2.5</text><text transform="translate(500.50 693.90) scale(0.800 1)" font-size="10.40" text-anchor="end" font-family='"Liberation Sans", sans-serif' fill="#262626">0</text><text transform="translate(470.65 675.70) scale(0.800 1)" font-size="10.40" text-anchor="end" font-family='"Liberation Sans", sans-serif' fill="#262626">500</text><text transform="translate(440.80 657.50) scale(0.800 1)" font-size="10.40" text-anchor="end" font-family='"Liberation Sans", sans-serif' fill="#262626">1000</text><text transform="translate(410.95 639.30) scale(0.800 1)" font-size="10.40" text-anchor="end" font-family='"Liberation Sans", sans-serif' fill="#262626">1500</text><text transform="translate(381.10 621.10) scale(0.800 1)" font-size="10.40" text-anchor="end" font-family='"Liberation Sans", sans-serif' fill="#262626">2000</text><text transform="translate(514.30 695.40) scale(0.800 1)" font-size="10.40" text-anchor="start" font-family='"Liberation Sans", sans-serif' fill="#262626">0</text><text transform="translate(553.20 681.53) scale(0.800 1)" font-size="10.40" text-anchor="start" font-family='"Liberation Sans", sans-serif' fill="#262626">200</text><text transform="translate(592.10 667.65) scale(0.800 1)" font-size="10.40" text-anchor="start" font-family='"Liberation Sans", sans-serif' fill="#262626">400</text><text transform="translate(631.00 653.78) scale(0.800 1)" font-size="10.40" text-anchor="start" font-family='"Liberation Sans", sans-serif' fill="#262626">600</text><text transform="translate(669.90 639.90) scale(0.800 1)" font-size="10.40" text-anchor="start" font-family='"Liberation Sans", sans-serif' fill="#262626">800</text><text transform="translate(410.25 694.00) scale(0.780 1)" font-size="12.60" text-anchor="middle" font-family='"Liberation Sans", sans-serif' fill="#262626">Infected T-cells I</text><text transform="translate(610.20 698.60) scale(0.780 1)" font-size="12.60" text-anchor="middle" font-family='"Liberation Sans", sans-serif' fill="#262626">Healthy T-cells T</text><text transform="translate(364.50 525.50) scale(0.800 1) rotate(-90)" font-size="12.45" text-anchor="middle" font-family='"Liberation Sans", sans-serif' fill="#262626">Free HIV virus &#160;V</text><text transform="translate(368.30 428.80) scale(0.850 1)" font-size="10.50" text-anchor="start" font-family='"Liberation Sans", sans-serif' fill="#5a5a5a">&#215;</text><text transform="translate(374.60 428.60) scale(0.800 1)" font-size="10.00" text-anchor="start" font-family='"Liberation Sans", sans-serif' fill="#262626">10</text><text transform="translate(383.90 423.10) scale(0.800 1)" font-size="8.60" text-anchor="start" font-family='"Liberation Sans", sans-serif' fill="#262626">5</text><text transform="translate(159.70 352.50) scale(1.000 1)" font-size="14.20" text-anchor="middle" font-family='"Liberation Serif", serif' fill="#000">(a)</text><text transform="translate(517.00 352.50) scale(1.000 1)" font-size="14.20" text-anchor="middle" font-family='"Liberation Serif", serif' fill="#000">(b)</text><text transform="translate(159.70 738.60) scale(1.000 1)" font-size="14.20" text-anchor="middle" font-family='"Liberation Serif", serif' fill="#000">(c)</text><text transform="translate(516.80 737.90) scale(1.000 1)" font-size="14.20" text-anchor="middle" font-family='"Liberation Serif", serif' fill="#000">(d)</text></svg></body></html>
